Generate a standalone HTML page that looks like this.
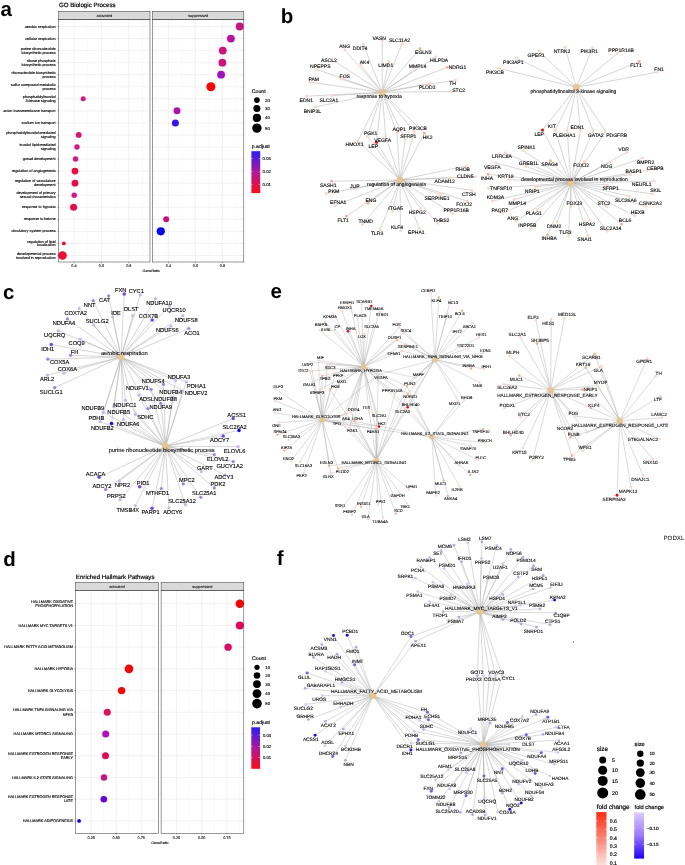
<!DOCTYPE html>
<html lang="en"><head><meta charset="utf-8"><title>Figure</title>
<style>html,body{margin:0;padding:0;background:#fff}svg{display:block}text{font-family:'Liberation Sans', sans-serif;text-rendering:geometricPrecision}</style>
</head><body>
<svg width="685" height="865" viewBox="0 0 685 865">
<defs>
<linearGradient id="gpadj" x1="0" y1="0" x2="0" y2="1"><stop offset="0" stop-color="#2a1aff"/><stop offset="0.5" stop-color="#b3159a"/><stop offset="1" stop-color="#ff0a14"/></linearGradient>
<linearGradient id="gred" x1="0" y1="0" x2="0" y2="1"><stop offset="0" stop-color="#ff2a10"/><stop offset="1" stop-color="#fde4dc"/></linearGradient>
<linearGradient id="gblue" x1="0" y1="0" x2="0" y2="1"><stop offset="0" stop-color="#dccdff"/><stop offset="0.5" stop-color="#9a78ff"/><stop offset="1" stop-color="#1c00ff"/></linearGradient>
</defs>
<rect width="685" height="865" fill="#fff"/>
<text x="0.6" y="15.70" font-size="20.5" text-anchor="start" fill="#000" font-weight="bold">a</text>
<text x="280.8" y="22.80" font-size="20.5" text-anchor="start" fill="#000" font-weight="bold">b</text>
<text x="3.1" y="298.70" font-size="20.5" text-anchor="start" fill="#000" font-weight="bold">c</text>
<text x="3.3" y="565.90" font-size="20.5" text-anchor="start" fill="#000" font-weight="bold">d</text>
<text x="270.6" y="298.10" font-size="20.5" text-anchor="start" fill="#000" font-weight="bold">e</text>
<text x="276.8" y="565.20" font-size="20.5" text-anchor="start" fill="#000" font-weight="bold">f</text>
<text x="58.9" y="6.70" font-size="6.17" text-anchor="start" fill="#000" stroke="#000" stroke-width="0.185">GO Biologic Process</text>
<rect x="58.7" y="19.5" width="91.3" height="242.5" fill="#fff"/>
<path d="M60.3 19.5V262.0M87.7 19.5V262.0M115.1 19.5V262.0M142.5 19.5V262.0" stroke="#ebebeb" stroke-width="0.3" fill="none"/>
<path d="M58.7 26.50H150.0M58.7 38.55H150.0M58.7 50.60H150.0M58.7 62.65H150.0M58.7 74.70H150.0M58.7 86.75H150.0M58.7 98.80H150.0M58.7 110.85H150.0M58.7 122.90H150.0M58.7 134.95H150.0M58.7 147.00H150.0M58.7 159.05H150.0M58.7 171.10H150.0M58.7 183.15H150.0M58.7 195.20H150.0M58.7 207.25H150.0M58.7 219.30H150.0M58.7 231.35H150.0M58.7 243.40H150.0M58.7 255.45H150.0M74.0 19.5V262.0M101.4 19.5V262.0M128.8 19.5V262.0" stroke="#dedede" stroke-width="0.4" fill="none"/>
<rect x="58.7" y="11.3" width="91.3" height="8.2" fill="#d9d9d9" stroke="#333" stroke-width="0.5"/>
<text x="104.3" y="16.70" font-size="3.9" text-anchor="middle" fill="#1a1a1a" stroke="#1a1a1a" stroke-width="0.117">activated</text>
<path d="M74.0 262.0v1.3M101.4 262.0v1.3M128.8 262.0v1.3" stroke="#333" stroke-width="0.4" fill="none"/>
<text x="74.0" y="267.40" font-size="3.8" text-anchor="middle" fill="#262626" stroke="#262626" stroke-width="0.114">0.4</text>
<text x="101.4" y="267.40" font-size="3.8" text-anchor="middle" fill="#262626" stroke="#262626" stroke-width="0.114">0.6</text>
<text x="128.8" y="267.40" font-size="3.8" text-anchor="middle" fill="#262626" stroke="#262626" stroke-width="0.114">0.8</text>
<rect x="152.5" y="19.5" width="91.3" height="242.5" fill="#fff"/>
<path d="M154.9 19.5V262.0M181.9 19.5V262.0M208.9 19.5V262.0M235.9 19.5V262.0" stroke="#ebebeb" stroke-width="0.3" fill="none"/>
<path d="M152.5 26.50H243.8M152.5 38.55H243.8M152.5 50.60H243.8M152.5 62.65H243.8M152.5 74.70H243.8M152.5 86.75H243.8M152.5 98.80H243.8M152.5 110.85H243.8M152.5 122.90H243.8M152.5 134.95H243.8M152.5 147.00H243.8M152.5 159.05H243.8M152.5 171.10H243.8M152.5 183.15H243.8M152.5 195.20H243.8M152.5 207.25H243.8M152.5 219.30H243.8M152.5 231.35H243.8M152.5 243.40H243.8M152.5 255.45H243.8M168.4 19.5V262.0M195.4 19.5V262.0M222.4 19.5V262.0" stroke="#dedede" stroke-width="0.4" fill="none"/>
<rect x="152.5" y="11.3" width="91.3" height="8.2" fill="#d9d9d9" stroke="#333" stroke-width="0.5"/>
<text x="198.2" y="16.70" font-size="3.9" text-anchor="middle" fill="#1a1a1a" stroke="#1a1a1a" stroke-width="0.117">suppressed</text>
<path d="M168.4 262.0v1.3M195.4 262.0v1.3M222.4 262.0v1.3" stroke="#333" stroke-width="0.4" fill="none"/>
<text x="168.4" y="267.40" font-size="3.8" text-anchor="middle" fill="#262626" stroke="#262626" stroke-width="0.114">0.4</text>
<text x="195.4" y="267.40" font-size="3.8" text-anchor="middle" fill="#262626" stroke="#262626" stroke-width="0.114">0.6</text>
<text x="222.4" y="267.40" font-size="3.8" text-anchor="middle" fill="#262626" stroke="#262626" stroke-width="0.114">0.8</text>
<circle cx="83.2" cy="98.80" r="2.5" fill="#dc1288"/>
<circle cx="78.7" cy="134.95" r="2.9" fill="#e01070"/>
<circle cx="77.0" cy="147.00" r="2.7" fill="#d8158a"/>
<circle cx="75.6" cy="159.05" r="2.7" fill="#d8158a"/>
<circle cx="75.0" cy="171.10" r="3.4" fill="#f00840"/>
<circle cx="75.0" cy="183.15" r="3.4" fill="#f00840"/>
<circle cx="74.2" cy="195.20" r="2.7" fill="#d8158a"/>
<circle cx="73.6" cy="207.25" r="3.5" fill="#ee0a48"/>
<circle cx="63.8" cy="243.40" r="1.9" fill="#f50a30"/>
<circle cx="62.5" cy="255.45" r="4.3" fill="#f50a30"/>
<circle cx="239.7" cy="26.50" r="3.9" fill="#cc1080"/>
<circle cx="230.9" cy="38.55" r="3.9" fill="#c010a0"/>
<circle cx="222.8" cy="50.60" r="3.9" fill="#d4107a"/>
<circle cx="222.4" cy="62.65" r="3.9" fill="#d4107a"/>
<circle cx="221.1" cy="74.70" r="3.9" fill="#a010c0"/>
<circle cx="210.9" cy="86.75" r="4.5" fill="#ff0000"/>
<circle cx="177.0" cy="110.85" r="3.5" fill="#b010b0"/>
<circle cx="175.4" cy="122.90" r="3.5" fill="#3a10ff"/>
<circle cx="166.2" cy="219.30" r="3.0" fill="#d0107a"/>
<circle cx="160.8" cy="231.35" r="4.1" fill="#0000ff"/>
<rect x="58.7" y="19.5" width="91.3" height="242.5" fill="none" stroke="#333" stroke-width="0.5"/>
<rect x="152.5" y="19.5" width="91.3" height="242.5" fill="none" stroke="#333" stroke-width="0.5"/>
<path d="M58.7 26.50h-1.3M58.7 38.55h-1.3M58.7 50.60h-1.3M58.7 62.65h-1.3M58.7 74.70h-1.3M58.7 86.75h-1.3M58.7 98.80h-1.3M58.7 110.85h-1.3M58.7 122.90h-1.3M58.7 134.95h-1.3M58.7 147.00h-1.3M58.7 159.05h-1.3M58.7 171.10h-1.3M58.7 183.15h-1.3M58.7 195.20h-1.3M58.7 207.25h-1.3M58.7 219.30h-1.3M58.7 231.35h-1.3M58.7 243.40h-1.3M58.7 255.45h-1.3" stroke="#333" stroke-width="0.4" fill="none"/>
<g font-size="3.75" text-anchor="end" fill="#000" stroke="#000" stroke-width="0.131">
<text x="55.6" y="27.62">aerobic respiration</text>
<text x="55.6" y="39.67">cellular respiration</text>
<text x="55.6" y="49.77">purine ribonucleotide</text>
<text x="55.6" y="53.68">biosynthetic process</text>
<text x="55.6" y="61.83">ribose phosphate</text>
<text x="55.6" y="65.73">biosynthetic process</text>
<text x="55.6" y="73.88">ribonucleotide biosynthetic</text>
<text x="55.6" y="77.78">process</text>
<text x="55.6" y="85.92">sulfur compound metabolic</text>
<text x="55.6" y="89.83">process</text>
<text x="55.6" y="97.98">phosphatidylinositol</text>
<text x="55.6" y="101.88">3-kinase signaling</text>
<text x="55.6" y="111.98">anion transmembrane transport</text>
<text x="55.6" y="124.03">sodium ion transport</text>
<text x="55.6" y="134.12">phosphatidylinositol-mediated</text>
<text x="55.6" y="138.02">signaling</text>
<text x="55.6" y="146.18">inositol lipid-mediated</text>
<text x="55.6" y="150.07">signaling</text>
<text x="55.6" y="160.18">gonad development</text>
<text x="55.6" y="172.23">regulation of angiogenesis</text>
<text x="55.6" y="182.33">regulation of vasculature</text>
<text x="55.6" y="186.22">development</text>
<text x="55.6" y="194.38">development of primary</text>
<text x="55.6" y="198.28">sexual characteristics</text>
<text x="55.6" y="208.38">response to hypoxia</text>
<text x="55.6" y="220.43">response to ketone</text>
<text x="55.6" y="232.48">circulatory system process</text>
<text x="55.6" y="242.58">regulation of lipid</text>
<text x="55.6" y="246.47">localization</text>
<text x="55.6" y="254.63">developmental process</text>
<text x="55.6" y="258.53">involved in reproduction</text>
</g>
<text x="151.2" y="272.00" font-size="3.6" text-anchor="middle" fill="#000" stroke="#000" stroke-width="0.108">GeneRatio</text>
<text x="251.8" y="92.77" font-size="5.2" text-anchor="start" fill="#000" stroke="#000" stroke-width="0.156">Count</text>
<circle cx="256.9" cy="100.1" r="2.9" fill="#000"/>
<text x="265.1" y="101.65" font-size="4.3" text-anchor="start" fill="#000" stroke="#000" stroke-width="0.129">20</text>
<circle cx="256.9" cy="108.5" r="3.5" fill="#000"/>
<text x="265.1" y="110.05" font-size="4.3" text-anchor="start" fill="#000" stroke="#000" stroke-width="0.129">30</text>
<circle cx="256.9" cy="117.9" r="4.1" fill="#000"/>
<text x="265.1" y="119.45" font-size="4.3" text-anchor="start" fill="#000" stroke="#000" stroke-width="0.129">40</text>
<circle cx="256.9" cy="128.1" r="4.7" fill="#000"/>
<text x="265.1" y="129.65" font-size="4.3" text-anchor="start" fill="#000" stroke="#000" stroke-width="0.129">50</text>
<text x="251.8" y="148.24" font-size="5.15" text-anchor="start" fill="#000" stroke="#000" stroke-width="0.154">p.adjust</text>
<rect x="251.4" y="151.2" width="8.8" height="41.9" fill="url(#gpadj)"/>
<path d="M251.4 158.6h1.76M260.2 158.6h-1.76" stroke="#fff" stroke-width="0.4" opacity="0.8"/>
<text x="262.6" y="160.13" font-size="4.25" text-anchor="start" fill="#000" stroke="#000" stroke-width="0.128">0.03</text>
<path d="M251.4 171.7h1.76M260.2 171.7h-1.76" stroke="#fff" stroke-width="0.4" opacity="0.8"/>
<text x="262.6" y="173.23" font-size="4.25" text-anchor="start" fill="#000" stroke="#000" stroke-width="0.128">0.02</text>
<path d="M251.4 184.6h1.76M260.2 184.6h-1.76" stroke="#fff" stroke-width="0.4" opacity="0.8"/>
<text x="262.6" y="186.13" font-size="4.25" text-anchor="start" fill="#000" stroke="#000" stroke-width="0.128">0.01</text>
<text x="75.8" y="579.00" font-size="6.17" text-anchor="start" fill="#000" stroke="#000" stroke-width="0.185">Enriched Hallmark Pathways</text>
<rect x="75.6" y="590.4" width="82.9" height="242.9" fill="#fff"/>
<path d="M78.7 590.4V833.3M103.8 590.4V833.3M128.8 590.4V833.3M153.9 590.4V833.3" stroke="#ebebeb" stroke-width="0.3" fill="none"/>
<path d="M75.6 603.70H158.5M75.6 625.42H158.5M75.6 647.14H158.5M75.6 668.86H158.5M75.6 690.58H158.5M75.6 712.30H158.5M75.6 734.02H158.5M75.6 755.74H158.5M75.6 777.46H158.5M75.6 799.18H158.5M75.6 820.90H158.5M91.2 590.4V833.3M116.3 590.4V833.3M141.3 590.4V833.3" stroke="#dedede" stroke-width="0.4" fill="none"/>
<rect x="75.6" y="582.5" width="82.9" height="7.9" fill="#d9d9d9" stroke="#333" stroke-width="0.5"/>
<text x="117.0" y="587.75" font-size="3.9" text-anchor="middle" fill="#1a1a1a" stroke="#1a1a1a" stroke-width="0.117">activated</text>
<path d="M91.2 833.3v1.3M116.3 833.3v1.3M141.3 833.3v1.3" stroke="#333" stroke-width="0.4" fill="none"/>
<text x="91.2" y="838.70" font-size="3.8" text-anchor="middle" fill="#262626" stroke="#262626" stroke-width="0.114">0.25</text>
<text x="116.3" y="838.70" font-size="3.8" text-anchor="middle" fill="#262626" stroke="#262626" stroke-width="0.114">0.50</text>
<text x="141.3" y="838.70" font-size="3.8" text-anchor="middle" fill="#262626" stroke="#262626" stroke-width="0.114">0.75</text>
<rect x="161.1" y="590.4" width="82.7" height="242.9" fill="#fff"/>
<path d="M163.9 590.4V833.3M189.1 590.4V833.3M214.3 590.4V833.3M239.5 590.4V833.3" stroke="#ebebeb" stroke-width="0.3" fill="none"/>
<path d="M161.1 603.70H243.8M161.1 625.42H243.8M161.1 647.14H243.8M161.1 668.86H243.8M161.1 690.58H243.8M161.1 712.30H243.8M161.1 734.02H243.8M161.1 755.74H243.8M161.1 777.46H243.8M161.1 799.18H243.8M161.1 820.90H243.8M176.5 590.4V833.3M201.7 590.4V833.3M226.9 590.4V833.3" stroke="#dedede" stroke-width="0.4" fill="none"/>
<rect x="161.1" y="582.5" width="82.7" height="7.9" fill="#d9d9d9" stroke="#333" stroke-width="0.5"/>
<text x="202.4" y="587.75" font-size="3.9" text-anchor="middle" fill="#1a1a1a" stroke="#1a1a1a" stroke-width="0.117">suppressed</text>
<path d="M176.5 833.3v1.3M201.7 833.3v1.3M226.9 833.3v1.3" stroke="#333" stroke-width="0.4" fill="none"/>
<text x="176.5" y="838.70" font-size="3.8" text-anchor="middle" fill="#262626" stroke="#262626" stroke-width="0.114">0.25</text>
<text x="201.7" y="838.70" font-size="3.8" text-anchor="middle" fill="#262626" stroke="#262626" stroke-width="0.114">0.50</text>
<text x="226.9" y="838.70" font-size="3.8" text-anchor="middle" fill="#262626" stroke="#262626" stroke-width="0.114">0.75</text>
<circle cx="239.8" cy="603.70" r="4.2" fill="#ff0000"/>
<circle cx="239.8" cy="625.42" r="4.0" fill="#e8005a"/>
<circle cx="228.1" cy="647.14" r="3.7" fill="#e00a64"/>
<circle cx="129.0" cy="668.86" r="4.3" fill="#ff0000"/>
<circle cx="121.6" cy="690.58" r="3.7" fill="#ff0000"/>
<circle cx="107.3" cy="712.30" r="3.5" fill="#e0105a"/>
<circle cx="105.7" cy="734.02" r="3.5" fill="#b010c0"/>
<circle cx="105.5" cy="755.74" r="3.5" fill="#e00a55"/>
<circle cx="104.0" cy="777.46" r="3.2" fill="#cc1088"/>
<circle cx="103.8" cy="799.18" r="3.3" fill="#6a00e8"/>
<circle cx="79.1" cy="820.90" r="1.9" fill="#0000ff"/>
<rect x="75.6" y="590.4" width="82.9" height="242.9" fill="none" stroke="#333" stroke-width="0.5"/>
<rect x="161.1" y="590.4" width="82.7" height="242.9" fill="none" stroke="#333" stroke-width="0.5"/>
<path d="M75.6 603.70h-1.3M75.6 625.42h-1.3M75.6 647.14h-1.3M75.6 668.86h-1.3M75.6 690.58h-1.3M75.6 712.30h-1.3M75.6 734.02h-1.3M75.6 755.74h-1.3M75.6 777.46h-1.3M75.6 799.18h-1.3M75.6 820.90h-1.3" stroke="#333" stroke-width="0.4" fill="none"/>
<g font-size="3.82" text-anchor="end" fill="#000" stroke="#000" stroke-width="0.134">
<text x="73.0" y="602.70">HALLMARK OXIDATIVE</text>
<text x="73.0" y="607.00">PHOSPHORYLATION</text>
<text x="73.0" y="626.57">HALLMARK MYC TARGETS V1</text>
<text x="73.0" y="648.29">HALLMARK FATTY ACID METABOLISM</text>
<text x="73.0" y="670.01">HALLMARK HYPOXIA</text>
<text x="73.0" y="691.73">HALLMARK GLYCOLYSIS</text>
<text x="73.0" y="711.30">HALLMARK TNFA SIGNALING VIA</text>
<text x="73.0" y="715.60">NFKB</text>
<text x="73.0" y="735.17">HALLMARK MTORC1 SIGNALING</text>
<text x="73.0" y="754.74">HALLMARK ESTROGEN RESPONSE</text>
<text x="73.0" y="759.04">EARLY</text>
<text x="73.0" y="778.61">HALLMARK IL2 STAT5 SIGNALING</text>
<text x="73.0" y="798.18">HALLMARK ESTROGEN RESPONSE</text>
<text x="73.0" y="802.48">LATE</text>
<text x="73.0" y="822.05">HALLMARK ADIPOGENESIS</text>
</g>
<text x="159.9" y="843.80" font-size="3.6" text-anchor="middle" fill="#000" stroke="#000" stroke-width="0.108">GeneRatio</text>
<text x="252.0" y="660.07" font-size="5.2" text-anchor="start" fill="#000" stroke="#000" stroke-width="0.156">Count</text>
<circle cx="257.0" cy="667.3" r="2.6" fill="#000"/>
<text x="265.3" y="668.85" font-size="4.3" text-anchor="start" fill="#000" stroke="#000" stroke-width="0.129">10</text>
<circle cx="257.0" cy="675.5" r="3.3" fill="#000"/>
<text x="265.3" y="677.05" font-size="4.3" text-anchor="start" fill="#000" stroke="#000" stroke-width="0.129">20</text>
<circle cx="257.0" cy="684.1" r="3.9" fill="#000"/>
<text x="265.3" y="685.65" font-size="4.3" text-anchor="start" fill="#000" stroke="#000" stroke-width="0.129">30</text>
<circle cx="257.0" cy="693.6" r="4.4" fill="#000"/>
<text x="265.3" y="695.15" font-size="4.3" text-anchor="start" fill="#000" stroke="#000" stroke-width="0.129">40</text>
<circle cx="257.0" cy="703.6" r="4.8" fill="#000"/>
<text x="265.3" y="705.15" font-size="4.3" text-anchor="start" fill="#000" stroke="#000" stroke-width="0.129">50</text>
<text x="252.0" y="723.94" font-size="5.15" text-anchor="start" fill="#000" stroke="#000" stroke-width="0.154">p.adjust</text>
<rect x="251.3" y="727.3" width="8.7" height="41.5" fill="url(#gpadj)"/>
<path d="M251.3 735.2h1.74M260.0 735.2h-1.74" stroke="#fff" stroke-width="0.4" opacity="0.8"/>
<text x="262.9" y="736.73" font-size="4.25" text-anchor="start" fill="#000" stroke="#000" stroke-width="0.128">0.03</text>
<path d="M251.3 746.5h1.74M260.0 746.5h-1.74" stroke="#fff" stroke-width="0.4" opacity="0.8"/>
<text x="262.9" y="748.03" font-size="4.25" text-anchor="start" fill="#000" stroke="#000" stroke-width="0.128">0.02</text>
<path d="M251.3 757.5h1.74M260.0 757.5h-1.74" stroke="#fff" stroke-width="0.4" opacity="0.8"/>
<text x="262.9" y="759.03" font-size="4.25" text-anchor="start" fill="#000" stroke="#000" stroke-width="0.128">0.01</text>
<g stroke="#adadad" stroke-width="0.5" fill="none">
<path d="M382.2 92.3L382.3 40.7M382.2 92.3L344.7 49.8M382.2 92.3L363.2 44.2M382.2 92.3L335.9 62.0M382.2 92.3L361.0 65.0M382.2 92.3L389.0 61.5M382.2 92.3L317.2 69.6M382.2 92.3L341.3 79.2M382.2 92.3L310.1 82.2M382.2 92.3L306.6 96.2M382.2 92.3L332.0 95.7M382.2 92.3L315.4 107.1M382.2 92.3L402.1 43.7M382.2 92.3L420.1 48.6M382.2 92.3L435.9 56.8M382.2 92.3L414.4 69.9M382.2 92.3L447.3 67.3M382.2 92.3L455.7 79.9M382.2 92.3L429.8 83.4M382.2 92.3L450.8 91.5M382.2 92.3L367.5 136.3M400.0 179.9L367.5 136.3M382.2 92.3L357.9 141.1M400.0 179.9L357.9 141.1M382.2 92.3L385.6 136.3M400.0 179.9L385.6 136.3M382.2 92.3L376.4 142.3M400.0 179.9L376.4 142.3M382.2 92.3L396.9 132.7M400.0 179.9L396.9 132.7M382.2 92.3L405.2 139.3M400.0 179.9L405.2 139.3M382.2 92.3L414.5 132.0M400.0 179.9L414.5 132.0M382.2 92.3L424.4 133.2M400.0 179.9L424.4 133.2M576.4 87.4L498.0 68.2M576.4 87.4L516.8 58.2M576.4 87.4L539.2 51.2M576.4 87.4L565.0 47.2M576.4 87.4L542.5 130.0M571.1 182.9L542.5 130.0M576.4 87.4L555.3 130.0M571.1 182.9L555.3 130.0M576.4 87.4L567.1 130.7M571.1 182.9L567.1 130.7M576.4 87.4L592.5 47.7M576.4 87.4L617.6 53.3M576.4 87.4L639.3 61.5M576.4 87.4L656.8 72.2M576.4 87.4L593.0 130.7M571.1 182.9L593.0 130.7M576.4 87.4L605.6 131.6M571.1 182.9L605.6 131.6M576.4 87.4L580.4 130.4M571.1 182.9L580.4 130.4M400.0 179.9L331.5 181.2M400.0 179.9L351.8 189.2M400.0 179.9L326.4 193.4M400.0 179.9L335.2 205.7M400.0 179.9L368.0 203.2M400.0 179.9L346.4 216.2M400.0 179.9L362.4 224.6M400.0 179.9L392.5 211.5M400.0 179.9L380.2 229.5M400.0 179.9L466.2 165.9M400.0 179.9L475.3 176.8M400.0 179.9L449.6 177.7M400.0 179.9L472.0 190.4M400.0 179.9L440.3 194.5M400.0 179.9L467.1 201.0M400.0 179.9L453.1 214.1M400.0 179.9L420.3 208.3M400.0 179.9L437.7 223.4M400.0 179.9L419.4 228.6M400.0 179.9L400.5 231.1M571.1 182.9L523.3 150.7M571.1 182.9L505.1 152.8M571.1 182.9L525.9 166.4M571.1 182.9L550.4 160.7M571.1 182.9L495.8 162.9M571.1 182.9L488.1 174.3M571.1 182.9L508.4 179.6M571.1 182.9L488.4 188.3M571.1 182.9L535.5 186.9M571.1 182.9L492.3 201.0M571.1 182.9L514.2 199.6M571.1 182.9L502.8 213.2M571.1 182.9L536.9 209.7M571.1 182.9L515.9 221.5M571.1 182.9L530.5 228.6M571.1 182.9L557.1 222.0M571.1 182.9L571.1 206.7M571.1 182.9L547.4 234.8M571.1 182.9L568.5 236.0M571.1 182.9L584.3 161.5M571.1 182.9L626.7 152.4M571.1 182.9L610.0 162.1M571.1 182.9L642.6 158.0M571.1 182.9L630.7 174.7M571.1 182.9L647.0 170.3M571.1 182.9L654.0 181.3M571.1 182.9L607.6 184.8M571.1 182.9L652.6 193.9M571.1 182.9L629.3 196.2M571.1 182.9L646.1 206.6M571.1 182.9L607.0 206.7M571.1 182.9L634.6 215.8M571.1 182.9L621.6 224.1M571.1 182.9L607.0 231.3M571.1 182.9L590.1 220.6M571.1 182.9L587.8 235.5"/>
</g>
<circle cx="382.3" cy="40.7" r="1.40" fill="#ffd4c5"/>
<circle cx="344.7" cy="49.8" r="1.40" fill="#ffd4c5"/>
<circle cx="363.2" cy="44.2" r="1.40" fill="#ffd4c5"/>
<circle cx="335.9" cy="62.0" r="1.40" fill="#ffd4c5"/>
<circle cx="361.0" cy="65.0" r="1.40" fill="#ffd4c5"/>
<circle cx="389.0" cy="61.5" r="1.40" fill="#ffd4c5"/>
<circle cx="317.2" cy="69.6" r="1.40" fill="#ffd4c5"/>
<circle cx="341.3" cy="79.2" r="1.40" fill="#ffd4c5"/>
<circle cx="310.1" cy="82.2" r="1.40" fill="#ffd4c5"/>
<circle cx="306.6" cy="96.2" r="1.40" fill="#ffd4c5"/>
<circle cx="332.0" cy="95.7" r="1.40" fill="#ffd4c5"/>
<circle cx="315.4" cy="107.1" r="1.40" fill="#ffd4c5"/>
<circle cx="402.1" cy="43.7" r="1.40" fill="#ffd4c5"/>
<circle cx="420.1" cy="48.6" r="1.40" fill="#ffa890"/>
<circle cx="435.9" cy="56.8" r="1.40" fill="#ffd4c5"/>
<circle cx="414.4" cy="69.9" r="1.40" fill="#ffd4c5"/>
<circle cx="447.3" cy="67.3" r="1.40" fill="#ffa890"/>
<circle cx="455.7" cy="79.9" r="1.40" fill="#ffd4c5"/>
<circle cx="429.8" cy="83.4" r="1.40" fill="#ffd4c5"/>
<circle cx="450.8" cy="91.5" r="1.40" fill="#ffd4c5"/>
<circle cx="367.5" cy="136.3" r="1.40" fill="#ffd4c5"/>
<circle cx="357.9" cy="141.1" r="1.40" fill="#ffd4c5"/>
<circle cx="385.6" cy="136.3" r="1.40" fill="#ffd4c5"/>
<circle cx="376.4" cy="142.3" r="1.54" fill="#ff0000"/>
<circle cx="396.9" cy="132.7" r="1.40" fill="#ffd4c5"/>
<circle cx="405.2" cy="139.3" r="1.40" fill="#ffd4c5"/>
<circle cx="414.5" cy="132.0" r="1.40" fill="#ffd4c5"/>
<circle cx="424.4" cy="133.2" r="1.40" fill="#ffa890"/>
<circle cx="498.0" cy="68.2" r="1.40" fill="#ffd4c5"/>
<circle cx="516.8" cy="58.2" r="1.40" fill="#ffd4c5"/>
<circle cx="539.2" cy="51.2" r="1.40" fill="#ffd4c5"/>
<circle cx="565.0" cy="47.2" r="1.40" fill="#ffd4c5"/>
<circle cx="542.5" cy="130.0" r="1.54" fill="#ff0000"/>
<circle cx="555.3" cy="130.0" r="1.40" fill="#ffd4c5"/>
<circle cx="567.1" cy="130.7" r="1.40" fill="#ffd4c5"/>
<circle cx="592.5" cy="47.7" r="1.40" fill="#ffd4c5"/>
<circle cx="617.6" cy="53.3" r="1.40" fill="#ffd4c5"/>
<circle cx="639.3" cy="61.5" r="1.40" fill="#ffa890"/>
<circle cx="656.8" cy="72.2" r="1.40" fill="#ffd4c5"/>
<circle cx="593.0" cy="130.7" r="1.40" fill="#ffd4c5"/>
<circle cx="605.6" cy="131.6" r="1.40" fill="#ffd4c5"/>
<circle cx="580.4" cy="130.4" r="1.40" fill="#ffd4c5"/>
<circle cx="331.5" cy="181.2" r="1.40" fill="#ffa890"/>
<circle cx="351.8" cy="189.2" r="1.40" fill="#ffd4c5"/>
<circle cx="326.4" cy="193.4" r="1.40" fill="#ffd4c5"/>
<circle cx="335.2" cy="205.7" r="1.40" fill="#ffd4c5"/>
<circle cx="368.0" cy="203.2" r="1.40" fill="#ffa890"/>
<circle cx="346.4" cy="216.2" r="1.40" fill="#ffa890"/>
<circle cx="362.4" cy="224.6" r="1.40" fill="#ffd4c5"/>
<circle cx="392.5" cy="211.5" r="1.40" fill="#ffd4c5"/>
<circle cx="380.2" cy="229.5" r="1.40" fill="#ffd4c5"/>
<circle cx="466.2" cy="165.9" r="1.40" fill="#ffd4c5"/>
<circle cx="475.3" cy="176.8" r="1.40" fill="#ffd4c5"/>
<circle cx="449.6" cy="177.7" r="1.40" fill="#ffd4c5"/>
<circle cx="472.0" cy="190.4" r="1.40" fill="#ffd4c5"/>
<circle cx="440.3" cy="194.5" r="1.40" fill="#ffd4c5"/>
<circle cx="467.1" cy="201.0" r="1.40" fill="#ffd4c5"/>
<circle cx="453.1" cy="214.1" r="1.40" fill="#ffd4c5"/>
<circle cx="420.3" cy="208.3" r="1.40" fill="#ffd4c5"/>
<circle cx="437.7" cy="223.4" r="1.40" fill="#ffd4c5"/>
<circle cx="419.4" cy="228.6" r="1.40" fill="#ffd4c5"/>
<circle cx="400.5" cy="231.1" r="1.40" fill="#ffd4c5"/>
<circle cx="523.3" cy="150.7" r="1.40" fill="#ffd4c5"/>
<circle cx="505.1" cy="152.8" r="1.40" fill="#ffd4c5"/>
<circle cx="525.9" cy="166.4" r="1.40" fill="#ffd4c5"/>
<circle cx="550.4" cy="160.7" r="1.40" fill="#ffa890"/>
<circle cx="495.8" cy="162.9" r="1.40" fill="#ffd4c5"/>
<circle cx="488.1" cy="174.3" r="1.40" fill="#ffa890"/>
<circle cx="508.4" cy="179.6" r="1.40" fill="#ffd4c5"/>
<circle cx="488.4" cy="188.3" r="1.40" fill="#ffd4c5"/>
<circle cx="535.5" cy="186.9" r="1.40" fill="#ffd4c5"/>
<circle cx="492.3" cy="201.0" r="1.40" fill="#ffd4c5"/>
<circle cx="514.2" cy="199.6" r="1.40" fill="#ffd4c5"/>
<circle cx="502.8" cy="213.2" r="1.40" fill="#ffd4c5"/>
<circle cx="536.9" cy="209.7" r="1.40" fill="#ffd4c5"/>
<circle cx="515.9" cy="221.5" r="1.40" fill="#ffd4c5"/>
<circle cx="530.5" cy="228.6" r="1.40" fill="#ffd4c5"/>
<circle cx="557.1" cy="222.0" r="1.40" fill="#ffd4c5"/>
<circle cx="571.1" cy="206.7" r="1.40" fill="#ffd4c5"/>
<circle cx="547.4" cy="234.8" r="1.40" fill="#ffa890"/>
<circle cx="568.5" cy="236.0" r="1.40" fill="#ffd4c5"/>
<circle cx="584.3" cy="161.5" r="1.40" fill="#ffd4c5"/>
<circle cx="626.7" cy="152.4" r="1.40" fill="#ffd4c5"/>
<circle cx="610.0" cy="162.1" r="1.40" fill="#ffd4c5"/>
<circle cx="642.6" cy="158.0" r="1.40" fill="#ffd4c5"/>
<circle cx="630.7" cy="174.7" r="1.40" fill="#ffd4c5"/>
<circle cx="647.0" cy="170.3" r="1.40" fill="#ffd4c5"/>
<circle cx="654.0" cy="181.3" r="1.40" fill="#ffd4c5"/>
<circle cx="607.6" cy="184.8" r="1.40" fill="#ffd4c5"/>
<circle cx="652.6" cy="193.9" r="1.40" fill="#ffd4c5"/>
<circle cx="629.3" cy="196.2" r="1.40" fill="#ffd4c5"/>
<circle cx="646.1" cy="206.6" r="1.40" fill="#ffd4c5"/>
<circle cx="607.0" cy="206.7" r="1.40" fill="#ffd4c5"/>
<circle cx="634.6" cy="215.8" r="1.40" fill="#ffd4c5"/>
<circle cx="621.6" cy="224.1" r="1.40" fill="#ffa890"/>
<circle cx="607.0" cy="231.3" r="1.40" fill="#ffd4c5"/>
<circle cx="590.1" cy="220.6" r="1.40" fill="#ffd4c5"/>
<circle cx="587.8" cy="235.5" r="1.40" fill="#ffd4c5"/>
<circle cx="382.2" cy="92.3" r="3.3" fill="#e8c48e"/>
<circle cx="400.0" cy="179.9" r="3.3" fill="#e8c48e"/>
<circle cx="576.4" cy="87.4" r="3.3" fill="#e8c48e"/>
<circle cx="571.1" cy="182.9" r="3.3" fill="#e8c48e"/>
<g font-size="5.05" text-anchor="middle" fill="#000" stroke="#000" stroke-width="0.111">
<text x="379.3" y="40.22">VASN</text>
<text x="344.7" y="48.12">ANG</text>
<text x="360.1" y="49.82">DDIT4</text>
<text x="328.9" y="61.92">ASCL2</text>
<text x="364.5" y="63.82">AK4</text>
<text x="385.8" y="67.42">LIMD1</text>
<text x="320.3" y="68.12">NPEPPS</text>
<text x="344.8" y="77.52">FOS</text>
<text x="313.7" y="80.82">PAM</text>
<text x="306.3" y="101.72">EDN1</text>
<text x="328.9" y="101.52">SLC2A1</text>
<text x="312.4" y="112.92">BNIP3L</text>
<text x="399.5" y="41.92">SLC11A2</text>
<text x="423.3" y="54.42">EGLN3</text>
<text x="439.1" y="62.32">HILPDA</text>
<text x="417.5" y="68.22">MMP14</text>
<text x="457.5" y="68.82">NDRG1</text>
<text x="452.6" y="85.22">TH</text>
<text x="427.2" y="89.12">PLOD2</text>
<text x="458.7" y="91.92">STC2</text>
<text x="370.7" y="134.52">PGK1</text>
<text x="354.5" y="146.42">HMOX1</text>
<text x="382.6" y="142.02">VEGFA</text>
<text x="373.3" y="148.12">LEP</text>
<text x="399.2" y="130.62">AQP1</text>
<text x="408.3" y="137.62">SFRP1</text>
<text x="418.0" y="130.22">PIK3CB</text>
<text x="427.6" y="138.82">HK2</text>
<text x="494.9" y="73.82">PIK3CB</text>
<text x="513.3" y="64.02">PIK3AP1</text>
<text x="536.1" y="56.72">GPER1</text>
<text x="562.0" y="52.82">NTRK2</text>
<text x="539.2" y="135.72">LEP</text>
<text x="551.8" y="128.32">KIT</text>
<text x="564.1" y="136.62">PLEKHA1</text>
<text x="589.2" y="53.32">PIK3R1</text>
<text x="621.1" y="51.62">PPP1R16B</text>
<text x="636.0" y="67.02">FLT1</text>
<text x="659.1" y="70.52">FN1</text>
<text x="595.7" y="136.92">GATA2</text>
<text x="616.7" y="137.12">PDGFRB</text>
<text x="577.3" y="128.72">EDN1</text>
<text x="328.2" y="187.02">SASH1</text>
<text x="354.8" y="187.92">JUP</text>
<text x="333.8" y="193.12">PKM</text>
<text x="338.2" y="204.02">EFNA1</text>
<text x="370.9" y="201.52">ENG</text>
<text x="343.1" y="222.02">FLT1</text>
<text x="365.7" y="222.92">TNMD</text>
<text x="395.6" y="209.82">ITGA5</text>
<text x="377.1" y="235.22">TLR3</text>
<text x="462.7" y="171.22">RHOB</text>
<text x="465.3" y="177.92">CLDN5</text>
<text x="444.7" y="183.12">ADAM12</text>
<text x="468.8" y="195.92">CTSH</text>
<text x="437.0" y="199.92">SERPINE1</text>
<text x="464.1" y="206.42">FOXJ2</text>
<text x="456.2" y="212.42">PPP1R16B</text>
<text x="417.2" y="213.62">HSPG2</text>
<text x="441.2" y="221.72">THBS2</text>
<text x="416.3" y="233.92">EPHA1</text>
<text x="397.0" y="229.22">KLF4</text>
<text x="526.4" y="149.02">SPINK1</text>
<text x="501.9" y="158.42">LRRC8A</text>
<text x="528.7" y="164.72">GREB1L</text>
<text x="549.6" y="166.12">SPAG4</text>
<text x="492.3" y="168.62">VEGFA</text>
<text x="487.0" y="180.02">INHA</text>
<text x="505.8" y="177.92">KRT19</text>
<text x="501.0" y="190.02">TNFSF10</text>
<text x="532.2" y="192.62">NRIP1</text>
<text x="495.4" y="199.22">KDM3A</text>
<text x="517.3" y="205.02">MMP14</text>
<text x="499.8" y="211.52">PAQR7</text>
<text x="533.8" y="215.02">PLAG1</text>
<text x="512.8" y="219.92">ANG</text>
<text x="527.3" y="226.92">INPP5B</text>
<text x="554.1" y="227.62">DNM2</text>
<text x="574.3" y="204.92">FOXJ3</text>
<text x="549.2" y="240.42">INHBA</text>
<text x="565.5" y="234.32">TLR3</text>
<text x="581.1" y="166.82">FOXJ2</text>
<text x="623.7" y="150.72">VDR</text>
<text x="606.7" y="167.52">NOG</text>
<text x="645.6" y="163.72">BMPR2</text>
<text x="633.7" y="173.02">BASP1</text>
<text x="655.2" y="169.82">CEBPB</text>
<text x="641.7" y="185.82">NEURL1</text>
<text x="610.6" y="190.12">SFRP1</text>
<text x="655.7" y="192.22">SKIL</text>
<text x="625.8" y="201.52">SLC26A6</text>
<text x="650.5" y="204.92">CSNK2A2</text>
<text x="603.9" y="204.92">STC2</text>
<text x="637.7" y="214.12">HEXB</text>
<text x="625.1" y="222.42">BCL6</text>
<text x="610.6" y="229.62">SLC2A14</text>
<text x="586.9" y="225.92">HSPA2</text>
<text x="584.6" y="240.92">SNAI1</text>
<text x="379.2" y="97.96">response to hypoxia</text>
<text x="396.5" y="185.66">regulation of angiogenesis</text>
<text x="573.5" y="92.86">phosphatidylinositol 3-kinase signaling</text>
<text x="574.4" y="180.76">developmental process involved in reproduction</text>
</g>
<g stroke="#adadad" stroke-width="0.5" fill="none">
<path d="M121.0 357.1L108.6 295.8M121.0 357.1L93.2 300.7M121.0 357.1L79.2 308.4M121.0 357.1L67.4 318.9M121.0 357.1L93.7 325.0M121.0 357.1L58.3 330.8M121.0 357.1L80.2 339.0M121.0 357.1L51.3 344.5M121.0 357.1L70.6 355.3M121.0 357.1L47.8 359.2M121.0 357.1L63.9 373.2M121.0 357.1L47.3 375.1M121.0 357.1L54.7 387.7M121.0 357.1L124.2 294.0M121.0 357.1L140.3 294.9M121.0 357.1L155.5 298.7M121.0 357.1L132.9 315.6M121.0 357.1L112.6 317.1M121.0 357.1L169.7 305.9M121.0 357.1L152.2 319.9M121.0 357.1L182.9 315.6M121.0 357.1L171.0 326.1M121.0 357.1L188.8 328.5M121.0 357.1L175.5 380.5M165.5 446.2L175.5 380.5M121.0 357.1L163.4 384.4M165.5 446.2L163.4 384.4M121.0 357.1L151.1 389.3M165.5 446.2L151.1 389.3M165.5 446.2L138.7 395.1M121.0 357.1L160.7 403.3M165.5 446.2L160.7 403.3M121.0 357.1L125.5 400.3M165.5 446.2L125.5 400.3M121.0 357.1L148.0 408.5M165.5 446.2L148.0 408.5M121.0 357.1L103.3 412.4M165.5 446.2L103.3 412.4M121.0 357.1L113.8 406.4M165.5 446.2L113.8 406.4M121.0 357.1L135.3 414.3M165.5 446.2L135.3 414.3M121.0 357.1L100.1 421.7M165.5 446.2L100.1 421.7M121.0 357.1L123.4 419.6M165.5 446.2L123.4 419.6M121.0 357.1L111.5 423.4M165.5 446.2L111.5 423.4M121.0 357.1L186.4 381.9M165.5 446.2L186.4 381.9M121.0 357.1L182.8 391.0M165.5 446.2L182.8 391.0M121.0 357.1L172.8 397.2M165.5 446.2L172.8 397.2M165.5 446.2L233.2 418.5M165.5 446.2L239.0 430.4M165.5 446.2L223.2 436.0M165.5 446.2L238.1 446.7M165.5 446.2L214.3 454.6M165.5 446.2L233.2 461.6M165.5 446.2L201.3 471.6M165.5 446.2L225.0 474.8M165.5 446.2L183.3 483.9M165.5 446.2L214.3 487.9M165.5 446.2L99.1 477.3M165.5 446.2L119.2 481.2M165.5 446.2L105.6 489.6M165.5 446.2L139.7 486.8M165.5 446.2L120.1 499.6M165.5 446.2L161.3 488.5M165.5 446.2L135.3 505.7M165.5 446.2L152.0 508.3M165.5 446.2L200.8 497.3M165.5 446.2L185.4 504.7M165.5 446.2L168.9 507.8"/>
</g>
<circle cx="108.6" cy="295.8" r="1.60" fill="#a07cff"/>
<circle cx="93.2" cy="300.7" r="1.60" fill="#a07cff"/>
<circle cx="79.2" cy="308.4" r="1.60" fill="#cbb3ff"/>
<circle cx="67.4" cy="318.9" r="1.60" fill="#a07cff"/>
<circle cx="93.7" cy="325.0" r="1.60" fill="#cbb3ff"/>
<circle cx="58.3" cy="330.8" r="1.60" fill="#cbb3ff"/>
<circle cx="80.2" cy="339.0" r="1.60" fill="#cbb3ff"/>
<circle cx="51.3" cy="344.5" r="1.76" fill="#7044ff"/>
<circle cx="70.6" cy="355.3" r="1.60" fill="#a07cff"/>
<circle cx="47.8" cy="359.2" r="1.60" fill="#a07cff"/>
<circle cx="63.9" cy="373.2" r="1.60" fill="#cbb3ff"/>
<circle cx="47.3" cy="375.1" r="1.60" fill="#cbb3ff"/>
<circle cx="54.7" cy="387.7" r="1.60" fill="#a07cff"/>
<circle cx="124.2" cy="294.0" r="1.76" fill="#7044ff"/>
<circle cx="140.3" cy="294.9" r="1.60" fill="#cbb3ff"/>
<circle cx="155.5" cy="298.7" r="1.60" fill="#cbb3ff"/>
<circle cx="132.9" cy="315.6" r="1.60" fill="#cbb3ff"/>
<circle cx="112.6" cy="317.1" r="1.60" fill="#cbb3ff"/>
<circle cx="169.7" cy="305.9" r="1.60" fill="#cbb3ff"/>
<circle cx="152.2" cy="319.9" r="1.76" fill="#7044ff"/>
<circle cx="182.9" cy="315.6" r="1.60" fill="#cbb3ff"/>
<circle cx="171.0" cy="326.1" r="1.60" fill="#cbb3ff"/>
<circle cx="188.8" cy="328.5" r="1.60" fill="#a07cff"/>
<circle cx="175.5" cy="380.5" r="1.60" fill="#cbb3ff"/>
<circle cx="163.4" cy="384.4" r="1.60" fill="#a07cff"/>
<circle cx="151.1" cy="389.3" r="1.60" fill="#a07cff"/>
<circle cx="138.7" cy="395.1" r="1.60" fill="#cbb3ff"/>
<circle cx="160.7" cy="403.3" r="1.60" fill="#a07cff"/>
<circle cx="125.5" cy="400.3" r="1.60" fill="#cbb3ff"/>
<circle cx="148.0" cy="408.5" r="1.60" fill="#a07cff"/>
<circle cx="103.3" cy="412.4" r="1.60" fill="#cbb3ff"/>
<circle cx="113.8" cy="406.4" r="1.60" fill="#cbb3ff"/>
<circle cx="135.3" cy="414.3" r="1.60" fill="#cbb3ff"/>
<circle cx="100.1" cy="421.7" r="1.60" fill="#cbb3ff"/>
<circle cx="123.4" cy="419.6" r="1.60" fill="#cbb3ff"/>
<circle cx="111.5" cy="423.4" r="1.76" fill="#1400ff"/>
<circle cx="186.4" cy="381.9" r="1.60" fill="#cbb3ff"/>
<circle cx="182.8" cy="391.0" r="1.60" fill="#cbb3ff"/>
<circle cx="172.8" cy="397.2" r="1.60" fill="#cbb3ff"/>
<circle cx="233.2" cy="418.5" r="1.76" fill="#7044ff"/>
<circle cx="239.0" cy="430.4" r="1.76" fill="#1400ff"/>
<circle cx="223.2" cy="436.0" r="1.76" fill="#7044ff"/>
<circle cx="238.1" cy="446.7" r="1.60" fill="#cbb3ff"/>
<circle cx="214.3" cy="454.6" r="1.60" fill="#a07cff"/>
<circle cx="233.2" cy="461.6" r="1.60" fill="#a07cff"/>
<circle cx="201.3" cy="471.6" r="1.60" fill="#cbb3ff"/>
<circle cx="225.0" cy="474.8" r="1.60" fill="#cbb3ff"/>
<circle cx="183.3" cy="483.9" r="1.60" fill="#a07cff"/>
<circle cx="214.3" cy="487.9" r="1.60" fill="#a07cff"/>
<circle cx="99.1" cy="477.3" r="1.76" fill="#7044ff"/>
<circle cx="119.2" cy="481.2" r="1.60" fill="#cbb3ff"/>
<circle cx="105.6" cy="489.6" r="1.60" fill="#a07cff"/>
<circle cx="139.7" cy="486.8" r="1.76" fill="#7044ff"/>
<circle cx="120.1" cy="499.6" r="1.60" fill="#cbb3ff"/>
<circle cx="161.3" cy="488.5" r="1.60" fill="#a07cff"/>
<circle cx="135.3" cy="505.7" r="1.60" fill="#cbb3ff"/>
<circle cx="152.0" cy="508.3" r="1.76" fill="#7044ff"/>
<circle cx="200.8" cy="497.3" r="1.60" fill="#a07cff"/>
<circle cx="185.4" cy="504.7" r="1.60" fill="#cbb3ff"/>
<circle cx="168.9" cy="507.8" r="1.60" fill="#cbb3ff"/>
<circle cx="121.0" cy="357.1" r="3.4" fill="#e8c48e"/>
<circle cx="165.5" cy="446.2" r="3.4" fill="#e8c48e"/>
<g font-size="5.7" text-anchor="middle" fill="#000" stroke="#000" stroke-width="0.103">
<text x="104.6" y="301.85">CAT</text>
<text x="89.7" y="307.15">NNT</text>
<text x="75.7" y="314.65">COX7A2</text>
<text x="63.9" y="325.15">NDUFA4</text>
<text x="97.2" y="323.25">SUCLG2</text>
<text x="54.7" y="337.45">UQCRQ</text>
<text x="76.6" y="345.45">COQ9</text>
<text x="47.8" y="350.95">IDH1</text>
<text x="74.5" y="353.55">FH</text>
<text x="59.6" y="364.05">COX5A</text>
<text x="67.4" y="371.35">COX6A</text>
<text x="47.0" y="381.35">ARL2</text>
<text x="51.2" y="393.85">SUCLG1</text>
<text x="120.7" y="292.05">FXN</text>
<text x="136.3" y="292.95">CYC1</text>
<text x="159.0" y="304.85">NDUFA10</text>
<text x="131.2" y="310.95">DLST</text>
<text x="116.1" y="315.35">IDE</text>
<text x="174.1" y="312.15">UQCR10</text>
<text x="148.5" y="317.95">COX7B</text>
<text x="186.4" y="321.95">NDUFS8</text>
<text x="167.4" y="332.35">NDUFS6</text>
<text x="192.0" y="334.65">ACO1</text>
<text x="179.0" y="378.75">NDUFA3</text>
<text x="153.2" y="382.55">NDUFS4</text>
<text x="137.4" y="389.55">NDUFV1</text>
<text x="146.6" y="400.95">ADSL</text>
<text x="165.5" y="401.35">NDUFB8</text>
<text x="124.8" y="406.55">NDUFC1</text>
<text x="160.7" y="409.35">NDUFA9</text>
<text x="92.8" y="410.25">NDUFB9</text>
<text x="118.7" y="414.05">NDUFB5</text>
<text x="145.3" y="418.85">SDHC</text>
<text x="96.3" y="419.75">PDHB</text>
<text x="128.2" y="425.85">NDUFA6</text>
<text x="102.4" y="429.55">NDUFB2</text>
<text x="196.4" y="388.15">PDHA1</text>
<text x="196.1" y="395.35">NDUFV2</text>
<text x="170.7" y="394.25">NDUFB4</text>
<text x="236.7" y="416.75">ACSS1</text>
<text x="234.6" y="428.65">SLC26A2</text>
<text x="219.6" y="442.45">ADCY7</text>
<text x="234.6" y="453.15">ELOVL6</text>
<text x="217.8" y="460.85">ELOVL2</text>
<text x="229.7" y="468.05">GUCY1A2</text>
<text x="204.8" y="469.85">GART</text>
<text x="223.9" y="478.95">ADCY3</text>
<text x="186.8" y="482.05">MPC2</text>
<text x="218.0" y="486.25">PDK2</text>
<text x="95.6" y="475.65">ACACA</text>
<text x="122.5" y="487.25">NPR2</text>
<text x="102.0" y="488.15">ADCY2</text>
<text x="143.2" y="484.95">PID1</text>
<text x="116.4" y="497.75">PRPS2</text>
<text x="157.6" y="494.65">MTHFD1</text>
<text x="127.8" y="511.75">TMSB4X</text>
<text x="150.6" y="514.25">PARP1</text>
<text x="204.3" y="495.45">SLC25A1</text>
<text x="182.1" y="502.85">SLC25A12</text>
<text x="172.8" y="514.25">ADCY6</text>
<text x="124.3" y="354.74">aerobic respiration</text>
<text x="161.7" y="452.44">purine ribonucleotide biosynthetic process</text>
</g>
<g stroke="#adadad" stroke-width="0.42" fill="none">
<path d="M363.7 366.7L350.6 305.1M363.7 366.7L361.5 304.2M363.7 366.7L341.8 311.2M363.7 366.7L371.3 305.9M363.7 366.7L333.1 313.6M363.7 366.7L357.6 318.5M363.7 366.7L379.5 311.9M363.7 366.7L324.8 321.5M363.7 366.7L334.8 329.6M363.7 366.7L319.9 330.3M363.7 366.7L348.0 331.2M363.7 366.7L373.9 323.8M363.7 366.7L364.3 334.0M363.7 366.7L318.2 360.6M322.2 419.9L318.2 360.6M363.7 366.7L310.3 361.8M322.2 419.9L310.3 361.8M363.7 366.7L309.9 371.1M322.2 419.9L309.9 371.1M363.7 366.7L327.3 364.4M322.2 419.9L327.3 364.4M363.7 366.7L335.7 372.9M322.2 419.9L335.7 372.9M363.7 366.7L322.2 375.8M322.2 419.9L322.2 375.8M363.7 366.7L312.6 381.1M322.2 419.9L312.6 381.1M363.7 366.7L339.2 384.2M322.2 419.9L339.2 384.2M363.7 366.7L330.1 389.5M322.2 419.9L330.1 389.5M376.3 460.1L330.1 389.5M363.7 366.7L319.6 389.5M322.2 419.9L319.6 389.5M322.2 419.9L275.3 389.1M363.7 366.7L378.3 374.6M322.2 419.9L378.3 374.6M376.3 460.1L378.3 374.6M434.8 359.7L378.3 374.6M434.8 359.7L430.8 293.1M434.8 359.7L439.0 297.5M434.8 359.7L450.6 299.6M434.8 359.7L462.0 310.7M434.8 359.7L447.8 313.6M434.8 359.7L472.0 323.4M434.8 359.7L459.7 329.1M434.8 359.7L479.0 337.5M434.8 359.7L468.1 348.3M434.8 359.7L483.0 353.2M434.8 359.7L471.1 368.5M434.8 359.7L484.2 369.0M434.8 359.7L479.5 382.5M363.7 366.7L399.3 327.3M434.8 359.7L399.3 327.3M363.7 366.7L403.3 333.1M434.8 359.7L403.3 333.1M363.7 366.7L397.2 340.1M434.8 359.7L397.2 340.1M363.7 366.7L405.4 343.9M434.8 359.7L405.4 343.9M363.7 366.7L401.9 351.0M434.8 359.7L401.9 351.0M363.7 366.7L415.9 377.8M434.8 359.7L415.9 377.8M322.2 419.9L275.3 401.0M322.2 419.9L274.7 412.8M322.2 419.9L278.8 422.6M322.2 419.9L277.4 434.8M322.2 419.9L288.7 439.9M322.2 419.9L284.4 450.6M322.2 419.9L291.4 460.9M322.2 419.9L300.3 462.0M322.2 419.9L303.8 472.9M322.2 419.9L329.0 465.8M376.3 460.1L329.0 465.8M322.2 419.9L330.8 473.4M376.3 460.1L330.8 473.4M322.2 419.9L338.0 468.5M376.3 460.1L338.0 468.5M363.7 366.7L350.9 412.4M322.2 419.9L350.9 412.4M376.3 460.1L350.9 412.4M363.7 366.7L343.6 415.6M322.2 419.9L343.6 415.6M363.7 366.7L354.1 421.2M322.2 419.9L354.1 421.2M376.3 460.1L354.1 421.2M431.8 436.9L354.1 421.2M363.7 366.7L342.7 424.3M322.2 419.9L342.7 424.3M376.3 460.1L342.7 424.3M431.8 436.9L342.7 424.3M363.7 366.7L349.7 427.7M322.2 419.9L349.7 427.7M376.3 460.1L349.7 427.7M363.7 366.7L369.0 410.7M376.3 460.1L369.0 410.7M363.7 366.7L376.5 412.4M376.3 460.1L376.5 412.4M363.7 366.7L379.0 426.4M322.2 419.9L379.0 426.4M376.3 460.1L379.0 426.4M363.7 366.7L375.6 429.1M322.2 419.9L375.6 429.1M376.3 460.1L375.6 429.1M363.7 366.7L406.8 386.1M434.8 359.7L406.8 386.1M376.3 460.1L406.8 386.1M431.8 436.9L406.8 386.1M363.7 366.7L395.1 393.5M434.8 359.7L395.1 393.5M376.3 460.1L395.1 393.5M363.7 366.7L407.7 393.7M434.8 359.7L407.7 393.7M376.3 460.1L407.7 393.7M431.8 436.9L407.7 393.7M363.7 366.7L407.7 407.2M434.8 359.7L407.7 407.2M376.3 460.1L407.7 407.2M431.8 436.9L407.7 407.2M363.7 366.7L405.0 408.9M434.8 359.7L405.0 408.9M376.3 460.1L405.0 408.9M431.8 436.9L405.0 408.9M434.8 359.7L464.1 400.1M431.8 436.9L464.1 400.1M434.8 359.7L458.1 401.0M431.8 436.9L458.1 401.0M431.8 436.9L483.0 429.1M431.8 436.9L483.9 442.5M431.8 436.9L470.7 446.0M431.8 436.9L478.1 460.1M431.8 436.9L458.8 465.5M431.8 436.9L470.4 475.0M431.8 436.9L443.6 480.4M431.8 436.9L459.7 486.5M376.3 460.1L409.1 489.5M431.8 436.9L435.7 495.6M376.3 460.1L395.1 497.7M431.8 436.9L448.0 496.0M376.3 460.1L342.6 507.8M376.3 460.1L352.0 514.8M376.3 460.1L361.0 506.6M376.3 460.1L368.0 518.8M376.3 460.1L378.0 504.5M376.3 460.1L382.9 518.0M376.3 460.1L395.8 513.6M376.3 460.1L407.2 503.6"/>
</g>
<circle cx="350.6" cy="305.1" r="1.15" fill="#ffd4c5"/>
<circle cx="361.5" cy="304.2" r="1.15" fill="#ffd4c5"/>
<circle cx="341.8" cy="311.2" r="1.15" fill="#ffd4c5"/>
<circle cx="371.3" cy="305.9" r="1.26" fill="#ff0000"/>
<circle cx="333.1" cy="313.6" r="1.15" fill="#ffd4c5"/>
<circle cx="357.6" cy="318.5" r="1.15" fill="#ffd4c5"/>
<circle cx="379.5" cy="311.9" r="1.15" fill="#ffd4c5"/>
<circle cx="324.8" cy="321.5" r="1.15" fill="#ffd4c5"/>
<circle cx="334.8" cy="329.6" r="1.15" fill="#ffa890"/>
<circle cx="319.9" cy="330.3" r="1.15" fill="#ffd4c5"/>
<circle cx="348.0" cy="331.2" r="1.26" fill="#ff0000"/>
<circle cx="373.9" cy="323.8" r="1.15" fill="#ffd4c5"/>
<circle cx="364.3" cy="334.0" r="1.15" fill="#ffd4c5"/>
<circle cx="318.2" cy="360.6" r="1.15" fill="#ffd4c5"/>
<circle cx="310.3" cy="361.8" r="1.15" fill="#ffd4c5"/>
<circle cx="309.9" cy="371.1" r="1.15" fill="#ffd4c5"/>
<circle cx="327.3" cy="364.4" r="1.15" fill="#ffd4c5"/>
<circle cx="335.7" cy="372.9" r="1.15" fill="#ffd4c5"/>
<circle cx="322.2" cy="375.8" r="1.15" fill="#ffa890"/>
<circle cx="312.6" cy="381.1" r="1.15" fill="#ffd4c5"/>
<circle cx="339.2" cy="384.2" r="1.15" fill="#ffd4c5"/>
<circle cx="330.1" cy="389.5" r="1.15" fill="#ffa890"/>
<circle cx="319.6" cy="389.5" r="1.15" fill="#ffd4c5"/>
<circle cx="275.3" cy="389.1" r="1.15" fill="#ffd4c5"/>
<circle cx="378.3" cy="374.6" r="1.15" fill="#ffd4c5"/>
<circle cx="430.8" cy="293.1" r="1.15" fill="#ffd4c5"/>
<circle cx="439.0" cy="297.5" r="1.15" fill="#ffa890"/>
<circle cx="450.6" cy="299.6" r="1.15" fill="#ffd4c5"/>
<circle cx="462.0" cy="310.7" r="1.15" fill="#ffa890"/>
<circle cx="447.8" cy="313.6" r="1.15" fill="#ffd4c5"/>
<circle cx="472.0" cy="323.4" r="1.15" fill="#ffd4c5"/>
<circle cx="459.7" cy="329.1" r="1.15" fill="#ffd4c5"/>
<circle cx="479.0" cy="337.5" r="1.15" fill="#ffd4c5"/>
<circle cx="468.1" cy="348.3" r="1.15" fill="#ffd4c5"/>
<circle cx="483.0" cy="353.2" r="1.15" fill="#ffd4c5"/>
<circle cx="471.1" cy="368.5" r="1.15" fill="#ffa890"/>
<circle cx="484.2" cy="369.0" r="1.15" fill="#ffd4c5"/>
<circle cx="479.5" cy="382.5" r="1.15" fill="#ffd4c5"/>
<circle cx="399.3" cy="327.3" r="1.15" fill="#ffd4c5"/>
<circle cx="403.3" cy="333.1" r="1.15" fill="#ffd4c5"/>
<circle cx="397.2" cy="340.1" r="1.15" fill="#ffa890"/>
<circle cx="405.4" cy="343.9" r="1.15" fill="#ffd4c5"/>
<circle cx="401.9" cy="351.0" r="1.15" fill="#ffd4c5"/>
<circle cx="415.9" cy="377.8" r="1.15" fill="#ffd4c5"/>
<circle cx="275.3" cy="401.0" r="1.15" fill="#ffd4c5"/>
<circle cx="274.7" cy="412.8" r="1.15" fill="#ffd4c5"/>
<circle cx="278.8" cy="422.6" r="1.15" fill="#ffd4c5"/>
<circle cx="277.4" cy="434.8" r="1.15" fill="#ffa890"/>
<circle cx="288.7" cy="439.9" r="1.15" fill="#ffd4c5"/>
<circle cx="284.4" cy="450.6" r="1.15" fill="#ffa890"/>
<circle cx="291.4" cy="460.9" r="1.15" fill="#ffd4c5"/>
<circle cx="300.3" cy="462.0" r="1.15" fill="#ffd4c5"/>
<circle cx="303.8" cy="472.9" r="1.15" fill="#ffd4c5"/>
<circle cx="329.0" cy="465.8" r="1.15" fill="#ffa890"/>
<circle cx="330.8" cy="473.4" r="1.15" fill="#ffd4c5"/>
<circle cx="338.0" cy="468.5" r="1.15" fill="#ffa890"/>
<circle cx="350.9" cy="412.4" r="1.15" fill="#ffd4c5"/>
<circle cx="343.6" cy="415.6" r="1.15" fill="#ffd4c5"/>
<circle cx="354.1" cy="421.2" r="1.15" fill="#ffa890"/>
<circle cx="342.7" cy="424.3" r="1.15" fill="#ffd4c5"/>
<circle cx="349.7" cy="427.7" r="1.15" fill="#ffd4c5"/>
<circle cx="369.0" cy="410.7" r="1.15" fill="#ffd4c5"/>
<circle cx="376.5" cy="412.4" r="1.15" fill="#ffd4c5"/>
<circle cx="379.0" cy="426.4" r="1.26" fill="#ff0000"/>
<circle cx="375.6" cy="429.1" r="1.15" fill="#ffa890"/>
<circle cx="406.8" cy="386.1" r="1.15" fill="#ffa890"/>
<circle cx="395.1" cy="393.5" r="1.15" fill="#ffd4c5"/>
<circle cx="407.7" cy="393.7" r="1.15" fill="#ffa890"/>
<circle cx="407.7" cy="407.2" r="1.26" fill="#ff0000"/>
<circle cx="405.0" cy="408.9" r="1.15" fill="#ffd4c5"/>
<circle cx="464.1" cy="400.1" r="1.15" fill="#ffd4c5"/>
<circle cx="458.1" cy="401.0" r="1.15" fill="#ffd4c5"/>
<circle cx="483.0" cy="429.1" r="1.15" fill="#ffa890"/>
<circle cx="483.9" cy="442.5" r="1.15" fill="#ffd4c5"/>
<circle cx="470.7" cy="446.0" r="1.15" fill="#ffd4c5"/>
<circle cx="478.1" cy="460.1" r="1.15" fill="#ffd4c5"/>
<circle cx="458.8" cy="465.5" r="1.15" fill="#ffd4c5"/>
<circle cx="470.4" cy="475.0" r="1.15" fill="#ffa890"/>
<circle cx="443.6" cy="480.4" r="1.15" fill="#ffa890"/>
<circle cx="459.7" cy="486.5" r="1.15" fill="#ffd4c5"/>
<circle cx="409.1" cy="489.5" r="1.15" fill="#ffd4c5"/>
<circle cx="435.7" cy="495.6" r="1.15" fill="#ffd4c5"/>
<circle cx="395.1" cy="497.7" r="1.15" fill="#ffd4c5"/>
<circle cx="448.0" cy="496.0" r="1.15" fill="#ffa890"/>
<circle cx="342.6" cy="507.8" r="1.15" fill="#ffd4c5"/>
<circle cx="352.0" cy="514.8" r="1.15" fill="#ffd4c5"/>
<circle cx="361.0" cy="506.6" r="1.15" fill="#ffa890"/>
<circle cx="368.0" cy="518.8" r="1.15" fill="#ffd4c5"/>
<circle cx="378.0" cy="504.5" r="1.15" fill="#ffd4c5"/>
<circle cx="382.9" cy="518.0" r="1.15" fill="#ffd4c5"/>
<circle cx="395.8" cy="513.6" r="1.15" fill="#ffa890"/>
<circle cx="407.2" cy="503.6" r="1.15" fill="#ffd4c5"/>
<circle cx="363.7" cy="366.7" r="2.7" fill="#e8c48e"/>
<circle cx="434.8" cy="359.7" r="2.7" fill="#e8c48e"/>
<circle cx="322.2" cy="419.9" r="2.7" fill="#e8c48e"/>
<circle cx="376.3" cy="460.1" r="2.7" fill="#e8c48e"/>
<circle cx="431.8" cy="436.9" r="2.7" fill="#e8c48e"/>
<g font-size="4.0" text-anchor="middle" fill="#000" stroke="#000" stroke-width="0.096">
<text x="347.1" y="303.64">ERRFI1</text>
<text x="364.3" y="302.84">SCARB1</text>
<text x="344.8" y="309.44">HMOX1</text>
<text x="373.9" y="310.04">TMEM45A</text>
<text x="330.1" y="318.24">KDM3A</text>
<text x="360.2" y="317.04">PLAC8</text>
<text x="382.1" y="316.14">STBD1</text>
<text x="321.7" y="325.74">BNIP3L</text>
<text x="337.4" y="328.24">CP</text>
<text x="326.1" y="331.34">ILVBL</text>
<text x="350.6" y="329.94">INHA</text>
<text x="371.6" y="328.44">SLC2A5</text>
<text x="362.0" y="338.34">LOX</text>
<text x="320.5" y="359.04">MIF</text>
<text x="307.7" y="366.44">UGP2</text>
<text x="303.3" y="371.64">STC2</text>
<text x="330.1" y="369.04">SDC3</text>
<text x="338.3" y="377.24">PFKP</text>
<text x="325.2" y="380.04">TPBG</text>
<text x="309.4" y="385.64">GALK1</text>
<text x="341.5" y="382.74">MXI1</text>
<text x="335.3" y="387.94">PKM</text>
<text x="317.0" y="394.04">IGFBP3</text>
<text x="278.2" y="387.74">ELF3</text>
<text x="380.9" y="379.04">VEGFA</text>
<text x="428.2" y="291.64">CEBPD</text>
<text x="436.4" y="301.94">KLF4</text>
<text x="453.2" y="303.84">BCL3</text>
<text x="459.7" y="315.04">BCL6</text>
<text x="445.2" y="317.84">TRIP10</text>
<text x="469.3" y="327.84">ABCA1</text>
<text x="457.1" y="333.44">IFIT2</text>
<text x="481.3" y="336.14">HES1</text>
<text x="465.5" y="346.74">TSC22D1</text>
<text x="485.6" y="351.84">EDN1</text>
<text x="468.5" y="366.94">INHBA</text>
<text x="486.5" y="367.64">IFIH1</text>
<text x="477.2" y="386.94">TANK</text>
<text x="396.6" y="325.74">FOS</text>
<text x="405.9" y="331.94">SDC4</text>
<text x="394.5" y="338.74">DUSP1</text>
<text x="408.0" y="348.14">SERPINE1</text>
<text x="394.0" y="355.34">EFNA1</text>
<text x="418.2" y="376.24">MAFF</text>
<text x="277.9" y="399.64">PKM</text>
<text x="277.0" y="411.24">ANG</text>
<text x="276.5" y="427.04">GNE</text>
<text x="280.0" y="433.34">SPAG4</text>
<text x="291.4" y="438.34">SLC35A3</text>
<text x="286.6" y="449.24">KIF2A</text>
<text x="288.4" y="459.54">ENO2</text>
<text x="303.3" y="466.54">SLC16A3</text>
<text x="301.5" y="477.44">PKP2</text>
<text x="326.4" y="464.34">EGLN3</text>
<text x="328.3" y="477.84">GLRX</text>
<text x="342.4" y="472.94">PLOD2</text>
<text x="353.6" y="410.84">DDIT4</text>
<text x="345.9" y="419.94">AK4</text>
<text x="357.6" y="419.64">LDHA</text>
<text x="336.9" y="424.84">TPI1</text>
<text x="352.3" y="431.94">PGK1</text>
<text x="366.4" y="409.44">TES</text>
<text x="379.1" y="416.64">SLC2A1</text>
<text x="381.6" y="424.84">HK2</text>
<text x="373.0" y="433.34">P4HA1</text>
<text x="409.8" y="384.64">PLIN2</text>
<text x="392.2" y="392.34">PPP1R15A</text>
<text x="410.3" y="398.04">NDRG1</text>
<text x="410.6" y="405.64">BHLHE40</text>
<text x="402.4" y="412.94">SLC2A3</text>
<text x="466.7" y="398.94">RHOB</text>
<text x="454.6" y="405.14">MXD1</text>
<text x="480.7" y="433.34">TNFSF10</text>
<text x="484.8" y="441.54">PRKCH</text>
<text x="468.1" y="450.34">SWAP70</text>
<text x="480.7" y="458.74">PLEC</text>
<text x="461.5" y="464.14">AHNAK</text>
<text x="473.4" y="473.44">IL1R2</text>
<text x="440.6" y="484.84">MUC1</text>
<text x="457.1" y="490.94">IL2RB</text>
<text x="411.7" y="487.94">UFM1</text>
<text x="433.1" y="494.24">BMPR2</text>
<text x="397.5" y="496.54">GAPDH</text>
<text x="450.6" y="500.24">ANXA4</text>
<text x="339.9" y="506.64">SSR1</text>
<text x="349.6" y="513.44">FKBP2</text>
<text x="363.6" y="505.04">INSIG1</text>
<text x="365.7" y="517.84">GLA</text>
<text x="380.6" y="503.14">PPIG</text>
<text x="380.1" y="522.74">TUBA4A</text>
<text x="398.5" y="512.44">SCD</text>
<text x="405.1" y="507.64">TBK1</text>
<text x="361.1" y="371.52">HALLMARK_HYPOXIA</text>
<text x="442.9" y="358.02">HALLMARK_TNFA_SIGNALING_VIA_NFKB</text>
<text x="316.2" y="418.12">HALLMARK_GLYCOLYSIS</text>
<text x="373.7" y="464.22">HALLMARK_MTORC1_SIGNALING</text>
<text x="434.6" y="435.32">HALLMARK_IL2_STAT5_SIGNALING</text>
</g>
<g stroke="#adadad" stroke-width="0.45" fill="none">
<path d="M550.6 390.0L536.1 320.6M550.6 390.0L551.3 319.4M550.6 390.0L564.4 318.2M550.6 390.0L520.3 337.5M550.6 390.0L536.9 343.4M550.6 390.0L509.8 356.2M550.6 390.0L519.1 375.5M550.6 390.0L503.7 384.2M550.6 390.0L594.4 354.1M619.8 420.8L594.4 354.1M550.6 390.0L585.7 367.6M619.8 420.8L585.7 367.6M550.6 390.0L601.3 366.4M619.8 420.8L601.3 366.4M550.6 390.0L597.8 385.5M619.8 420.8L597.8 385.5M550.6 390.0L582.0 389.5M619.8 420.8L582.0 389.5M619.8 420.8L647.3 358.3M619.8 420.8L655.6 376.0M619.8 420.8L660.8 396.2M550.6 390.0L504.5 408.0M550.6 390.0L520.6 417.3M550.6 390.0L510.7 435.2M550.6 390.0L522.6 448.3M550.6 390.0L532.6 460.2M550.6 390.0L590.9 408.0M619.8 420.8L590.9 408.0M550.6 390.0L576.0 416.3M619.8 420.8L576.0 416.3M550.6 390.0L587.2 432.2M619.8 420.8L587.2 432.2M550.6 390.0L570.6 437.3M619.8 420.8L570.6 437.3M550.6 390.0L582.5 451.0M619.8 420.8L582.5 451.0M550.6 390.0L572.0 455.7M619.8 420.8L572.0 455.7M619.8 420.8L661.9 417.7M619.8 420.8L659.6 439.2M619.8 420.8L652.9 458.8M619.8 420.8L643.0 475.5M619.8 420.8L631.0 487.4M619.8 420.8L617.0 495.3"/>
</g>
<circle cx="536.1" cy="320.6" r="1.30" fill="#ffd4c5"/>
<circle cx="551.3" cy="319.4" r="1.30" fill="#ffd4c5"/>
<circle cx="564.4" cy="318.2" r="1.30" fill="#ffd4c5"/>
<circle cx="520.3" cy="337.5" r="1.30" fill="#ffd4c5"/>
<circle cx="536.9" cy="343.4" r="1.30" fill="#ffa890"/>
<circle cx="509.8" cy="356.2" r="1.30" fill="#ffd4c5"/>
<circle cx="519.1" cy="375.5" r="1.30" fill="#ffa890"/>
<circle cx="503.7" cy="384.2" r="1.30" fill="#ffd4c5"/>
<circle cx="594.4" cy="354.1" r="1.30" fill="#ffa890"/>
<circle cx="585.7" cy="367.6" r="1.30" fill="#ffa890"/>
<circle cx="601.3" cy="366.4" r="1.30" fill="#ffd4c5"/>
<circle cx="597.8" cy="385.5" r="1.30" fill="#ffd4c5"/>
<circle cx="582.0" cy="389.5" r="1.30" fill="#ffa890"/>
<circle cx="647.3" cy="358.3" r="1.30" fill="#ffd4c5"/>
<circle cx="655.6" cy="376.0" r="1.30" fill="#ffd4c5"/>
<circle cx="660.8" cy="396.2" r="1.30" fill="#ffd4c5"/>
<circle cx="504.5" cy="408.0" r="1.30" fill="#ffd4c5"/>
<circle cx="520.6" cy="417.3" r="1.30" fill="#ffd4c5"/>
<circle cx="510.7" cy="435.2" r="1.30" fill="#ffa890"/>
<circle cx="522.6" cy="448.3" r="1.30" fill="#ffd4c5"/>
<circle cx="532.6" cy="460.2" r="1.30" fill="#ffd4c5"/>
<circle cx="590.9" cy="408.0" r="1.30" fill="#ffa890"/>
<circle cx="576.0" cy="416.3" r="1.30" fill="#ffd4c5"/>
<circle cx="587.2" cy="432.2" r="1.30" fill="#ffd4c5"/>
<circle cx="570.6" cy="437.3" r="1.30" fill="#ffa890"/>
<circle cx="582.5" cy="451.0" r="1.30" fill="#ffd4c5"/>
<circle cx="572.0" cy="455.7" r="1.30" fill="#ffa890"/>
<circle cx="661.9" cy="417.7" r="1.30" fill="#ffd4c5"/>
<circle cx="659.6" cy="439.2" r="1.30" fill="#ffd4c5"/>
<circle cx="652.9" cy="458.8" r="1.30" fill="#ffd4c5"/>
<circle cx="643.0" cy="475.5" r="1.30" fill="#ffd4c5"/>
<circle cx="631.0" cy="487.4" r="1.30" fill="#ffd4c5"/>
<circle cx="617.0" cy="495.3" r="1.43" fill="#ff0000"/>
<circle cx="550.6" cy="390.0" r="3.1" fill="#e8c48e"/>
<circle cx="619.8" cy="420.8" r="3.1" fill="#e8c48e"/>
<g font-size="4.7" text-anchor="middle" fill="#000" stroke="#000" stroke-width="0.085">
<text x="533.1" y="318.79">ELF3</text>
<text x="548.3" y="324.59">HES1</text>
<text x="567.1" y="316.39">MED13L</text>
<text x="517.3" y="335.69">SLC2A1</text>
<text x="539.9" y="341.79">SH3BP5</text>
<text x="512.8" y="354.39">MLPH</text>
<text x="516.3" y="380.99">MUC1</text>
<text x="507.2" y="389.39">SLC26A2</text>
<text x="591.3" y="359.09">SCARB1</text>
<text x="583.0" y="366.09">KRT19</text>
<text x="598.3" y="371.89">GLA</text>
<text x="600.6" y="383.79">MYOF</text>
<text x="590.4" y="390.69">NRIP1</text>
<text x="644.2" y="363.29">GPER1</text>
<text x="658.7" y="374.59">TH</text>
<text x="657.9" y="400.79">LTF</text>
<text x="507.5" y="406.79">PODXL</text>
<text x="523.8" y="415.89">STC2</text>
<text x="513.3" y="433.69">BHLHE40</text>
<text x="519.4" y="453.69">KRT15</text>
<text x="536.4" y="458.79">P2RY2</text>
<text x="593.9" y="406.79">KLF4</text>
<text x="573.4" y="414.99">FOS</text>
<text x="565.0" y="429.89">NCOR2</text>
<text x="573.7" y="435.99">FLNB</text>
<text x="585.1" y="449.49">WFS1</text>
<text x="569.3" y="460.89">TPBG</text>
<text x="659.1" y="416.19">LAMC2</text>
<text x="643.0" y="440.89">ST6GALNAC2</text>
<text x="650.3" y="463.99">SNX10</text>
<text x="640.3" y="480.69">DNAJC1</text>
<text x="628.1" y="492.59">MAPK13</text>
<text x="614.1" y="500.79">SERPINA3</text>
<text x="547.4" y="396.65">HALLMARK_ESTROGEN_RESPONSE_EARLY</text>
<text x="619.9" y="426.55">HALLMARK_ESTROGEN_RESPONSE_LATE</text>
</g>
<g stroke="#adadad" stroke-width="0.45" fill="none">
<path d="M480.0 611.8L467.6 542.8M480.0 611.8L453.9 545.2M480.0 611.8L441.0 550.1M480.0 611.8L461.5 561.5M480.0 611.8L429.6 557.2M480.0 611.8L443.9 568.5M480.0 611.8L420.8 566.8M480.0 611.8L415.4 578.2M480.0 611.8L432.9 582.2M480.0 611.8L467.1 584.0M480.0 611.8L417.7 591.7M480.0 611.8L451.0 594.5M480.0 611.8L429.4 601.5M480.0 611.8L443.1 611.5M480.0 611.8L458.8 617.2M480.0 611.8L411.0 636.5M373.1 695.7L411.0 636.5M480.0 611.8L415.6 641.2M373.1 695.7L415.6 641.2M480.0 611.8L481.9 541.9M480.0 611.8L496.6 545.2M480.0 611.8L510.8 549.3M480.0 611.8L522.9 557.2M480.0 611.8L481.4 558.4M480.0 611.8L502.8 563.6M480.0 611.8L533.6 565.6M480.0 611.8L518.2 576.8M480.0 611.8L487.5 580.3M480.0 611.8L543.2 575.2M480.0 611.8L533.1 589.0M480.0 611.8L550.6 587.5M480.0 611.8L502.8 594.5M480.0 611.8L554.6 600.1M480.0 611.8L520.3 605.3M480.0 611.8L540.1 608.8M480.0 611.8L555.8 612.9M480.0 611.8L502.8 619.7M480.0 611.8L521.3 624.1M480.0 611.8L550.1 624.6M480.0 611.8L536.6 627.2M373.1 695.7L347.2 635.2M373.1 695.7L333.5 635.4M373.1 695.7L321.8 644.5M373.1 695.7L356.0 647.2M373.1 695.7L313.4 657.3M373.1 695.7L337.0 654.2M373.1 695.7L354.7 664.7M373.1 695.7L325.3 671.3M373.1 695.7L307.2 672.9M373.1 695.7L341.9 682.5M373.1 695.7L305.1 688.3M373.1 695.7L322.3 695.7M373.1 695.7L340.5 707.2M373.1 695.7L305.7 704.4M373.1 695.7L308.3 719.5M373.1 695.7L325.3 721.3M373.1 695.7L343.3 729.1M373.1 695.7L315.1 735.2M373.1 695.7L324.8 745.8M373.1 695.7L345.4 745.8M373.1 695.7L332.7 756.4M373.1 695.7L345.4 760.3M480.0 611.8L477.3 675.6M483.1 744.5L477.3 675.6M480.0 611.8L489.6 675.6M483.1 744.5L489.6 675.6M480.0 611.8L483.5 675.9M483.1 744.5L483.5 675.9M480.0 611.8L495.7 675.2M483.1 744.5L495.7 675.2M480.0 611.8L502.2 675.2M483.1 744.5L502.2 675.2M373.1 695.7L427.4 712.3M483.1 744.5L427.4 712.3M373.1 695.7L428.3 719.7M483.1 744.5L428.3 719.7M373.1 695.7L419.5 720.6M483.1 744.5L419.5 720.6M373.1 695.7L423.6 729.5M483.1 744.5L423.6 729.5M373.1 695.7L414.3 731.3M483.1 744.5L414.3 731.3M373.1 695.7L418.3 739.8M483.1 744.5L418.3 739.8M483.1 744.5L470.7 728.5M483.1 744.5L490.1 722.9M373.1 695.7L410.8 750.1M483.1 744.5L410.8 750.1M373.1 695.7L411.1 742.8M483.1 744.5L411.1 742.8M483.1 744.5L460.7 752.9M483.1 744.5L448.4 769.6M483.1 744.5L466.0 772.6M483.1 744.5L435.3 779.9M483.1 744.5L484.0 776.1M483.1 744.5L449.8 788.9M483.1 744.5L431.3 791.3M483.1 744.5L466.0 795.7M483.1 744.5L438.8 801.1M483.1 744.5L484.3 798.0M483.1 744.5L449.0 807.6M483.1 744.5L460.3 812.3M483.1 744.5L472.6 814.6M483.1 744.5L485.2 815.0M483.1 744.5L536.1 714.5M483.1 744.5L522.4 716.4M483.1 744.5L547.8 717.3M483.1 744.5L507.5 722.4M483.1 744.5L556.0 727.3M483.1 744.5L543.1 734.3M483.1 744.5L526.3 734.7M483.1 744.5L558.9 740.1M483.1 744.5L508.9 744.5M483.1 744.5L558.0 752.4M483.1 744.5L541.3 752.7M483.1 744.5L554.5 764.4M483.1 744.5L522.1 760.2M483.1 744.5L535.2 773.4M483.1 744.5L549.9 776.0M483.1 744.5L502.3 768.8M483.1 744.5L518.6 784.2M483.1 744.5L541.3 787.4M483.1 744.5L502.3 793.0M483.1 744.5L531.5 796.0M483.1 744.5L521.2 803.1M483.1 744.5L509.8 809.2M483.1 744.5L497.9 812.2"/>
</g>
<circle cx="467.6" cy="542.8" r="1.35" fill="#d3c2ff"/>
<circle cx="453.9" cy="545.2" r="1.35" fill="#b89eff"/>
<circle cx="441.0" cy="550.1" r="1.35" fill="#d3c2ff"/>
<circle cx="461.5" cy="561.5" r="1.35" fill="#b89eff"/>
<circle cx="429.6" cy="557.2" r="1.35" fill="#d3c2ff"/>
<circle cx="443.9" cy="568.5" r="1.35" fill="#d3c2ff"/>
<circle cx="420.8" cy="566.8" r="1.35" fill="#d3c2ff"/>
<circle cx="415.4" cy="578.2" r="1.35" fill="#d3c2ff"/>
<circle cx="432.9" cy="582.2" r="1.35" fill="#d3c2ff"/>
<circle cx="467.1" cy="584.0" r="1.35" fill="#d3c2ff"/>
<circle cx="417.7" cy="591.7" r="1.35" fill="#d3c2ff"/>
<circle cx="451.0" cy="594.5" r="1.35" fill="#d3c2ff"/>
<circle cx="429.4" cy="601.5" r="1.35" fill="#d3c2ff"/>
<circle cx="443.1" cy="611.5" r="1.35" fill="#b89eff"/>
<circle cx="458.8" cy="617.2" r="1.35" fill="#b89eff"/>
<circle cx="411.0" cy="636.5" r="1.49" fill="#7c55ff"/>
<circle cx="415.6" cy="641.2" r="1.35" fill="#b89eff"/>
<circle cx="481.9" cy="541.9" r="1.35" fill="#b89eff"/>
<circle cx="496.6" cy="545.2" r="1.35" fill="#d3c2ff"/>
<circle cx="510.8" cy="549.3" r="1.35" fill="#b89eff"/>
<circle cx="522.9" cy="557.2" r="1.35" fill="#b89eff"/>
<circle cx="481.4" cy="558.4" r="1.35" fill="#d3c2ff"/>
<circle cx="502.8" cy="563.6" r="1.35" fill="#d3c2ff"/>
<circle cx="533.6" cy="565.6" r="1.35" fill="#b89eff"/>
<circle cx="518.2" cy="576.8" r="1.35" fill="#b89eff"/>
<circle cx="487.5" cy="580.3" r="1.35" fill="#d3c2ff"/>
<circle cx="543.2" cy="575.2" r="1.35" fill="#b89eff"/>
<circle cx="533.1" cy="589.0" r="1.35" fill="#b89eff"/>
<circle cx="550.6" cy="587.5" r="1.35" fill="#d3c2ff"/>
<circle cx="502.8" cy="594.5" r="1.35" fill="#b89eff"/>
<circle cx="554.6" cy="600.1" r="1.49" fill="#1c08ff"/>
<circle cx="520.3" cy="605.3" r="1.35" fill="#d3c2ff"/>
<circle cx="540.1" cy="608.8" r="1.35" fill="#b89eff"/>
<circle cx="555.8" cy="612.9" r="1.35" fill="#b89eff"/>
<circle cx="502.8" cy="619.7" r="1.35" fill="#b89eff"/>
<circle cx="521.3" cy="624.1" r="1.35" fill="#b89eff"/>
<circle cx="550.1" cy="624.6" r="1.35" fill="#b89eff"/>
<circle cx="536.6" cy="627.2" r="1.35" fill="#b89eff"/>
<circle cx="347.2" cy="635.2" r="1.49" fill="#1c08ff"/>
<circle cx="333.5" cy="635.4" r="1.49" fill="#1c08ff"/>
<circle cx="321.8" cy="644.5" r="1.35" fill="#b89eff"/>
<circle cx="356.0" cy="647.2" r="1.35" fill="#b89eff"/>
<circle cx="313.4" cy="657.3" r="1.35" fill="#b89eff"/>
<circle cx="337.0" cy="654.2" r="1.35" fill="#b89eff"/>
<circle cx="354.7" cy="664.7" r="1.49" fill="#7c55ff"/>
<circle cx="325.3" cy="671.3" r="1.35" fill="#d3c2ff"/>
<circle cx="307.2" cy="672.9" r="1.49" fill="#7c55ff"/>
<circle cx="341.9" cy="682.5" r="1.35" fill="#b89eff"/>
<circle cx="305.1" cy="688.3" r="1.35" fill="#b89eff"/>
<circle cx="322.3" cy="695.7" r="1.35" fill="#d3c2ff"/>
<circle cx="340.5" cy="707.2" r="1.35" fill="#d3c2ff"/>
<circle cx="305.7" cy="704.4" r="1.35" fill="#d3c2ff"/>
<circle cx="308.3" cy="719.5" r="1.35" fill="#b89eff"/>
<circle cx="325.3" cy="721.3" r="1.35" fill="#b89eff"/>
<circle cx="343.3" cy="729.1" r="1.35" fill="#b89eff"/>
<circle cx="315.1" cy="735.2" r="1.49" fill="#1c08ff"/>
<circle cx="324.8" cy="745.8" r="1.35" fill="#d3c2ff"/>
<circle cx="345.4" cy="745.8" r="1.35" fill="#d3c2ff"/>
<circle cx="332.7" cy="756.4" r="1.49" fill="#7c55ff"/>
<circle cx="345.4" cy="760.3" r="1.35" fill="#b89eff"/>
<circle cx="477.3" cy="675.6" r="1.35" fill="#b89eff"/>
<circle cx="489.6" cy="675.6" r="1.35" fill="#d3c2ff"/>
<circle cx="483.5" cy="675.9" r="1.35" fill="#d3c2ff"/>
<circle cx="495.7" cy="675.2" r="1.35" fill="#d3c2ff"/>
<circle cx="502.2" cy="675.2" r="1.35" fill="#d3c2ff"/>
<circle cx="427.4" cy="712.3" r="1.49" fill="#7c55ff"/>
<circle cx="428.3" cy="719.7" r="1.49" fill="#7c55ff"/>
<circle cx="419.5" cy="720.6" r="1.35" fill="#d3c2ff"/>
<circle cx="423.6" cy="729.5" r="1.35" fill="#b89eff"/>
<circle cx="414.3" cy="731.3" r="1.35" fill="#d3c2ff"/>
<circle cx="418.3" cy="739.8" r="1.49" fill="#7c55ff"/>
<circle cx="470.7" cy="728.5" r="1.35" fill="#d3c2ff"/>
<circle cx="490.1" cy="722.9" r="1.35" fill="#b89eff"/>
<circle cx="410.8" cy="750.1" r="1.49" fill="#1c08ff"/>
<circle cx="411.1" cy="742.8" r="1.35" fill="#d3c2ff"/>
<circle cx="460.7" cy="752.9" r="1.35" fill="#b89eff"/>
<circle cx="448.4" cy="769.6" r="1.35" fill="#d3c2ff"/>
<circle cx="466.0" cy="772.6" r="1.35" fill="#d3c2ff"/>
<circle cx="435.3" cy="779.9" r="1.35" fill="#d3c2ff"/>
<circle cx="484.0" cy="776.1" r="1.49" fill="#7c55ff"/>
<circle cx="449.8" cy="788.9" r="1.35" fill="#d3c2ff"/>
<circle cx="431.3" cy="791.3" r="1.49" fill="#7c55ff"/>
<circle cx="466.0" cy="795.7" r="1.49" fill="#7c55ff"/>
<circle cx="438.8" cy="801.1" r="1.35" fill="#d3c2ff"/>
<circle cx="484.3" cy="798.0" r="1.35" fill="#d3c2ff"/>
<circle cx="449.0" cy="807.6" r="1.35" fill="#b89eff"/>
<circle cx="460.3" cy="812.3" r="1.35" fill="#b89eff"/>
<circle cx="472.6" cy="814.6" r="1.35" fill="#b89eff"/>
<circle cx="485.2" cy="815.0" r="1.35" fill="#b89eff"/>
<circle cx="536.1" cy="714.5" r="1.35" fill="#b89eff"/>
<circle cx="522.4" cy="716.4" r="1.35" fill="#d3c2ff"/>
<circle cx="547.8" cy="717.3" r="1.49" fill="#7c55ff"/>
<circle cx="507.5" cy="722.4" r="1.49" fill="#7c55ff"/>
<circle cx="556.0" cy="727.3" r="1.35" fill="#d3c2ff"/>
<circle cx="543.1" cy="734.3" r="1.35" fill="#b89eff"/>
<circle cx="526.3" cy="734.7" r="1.49" fill="#7c55ff"/>
<circle cx="558.9" cy="740.1" r="1.35" fill="#d3c2ff"/>
<circle cx="508.9" cy="744.5" r="1.35" fill="#d3c2ff"/>
<circle cx="558.0" cy="752.4" r="1.35" fill="#d3c2ff"/>
<circle cx="541.3" cy="752.7" r="1.49" fill="#7c55ff"/>
<circle cx="554.5" cy="764.4" r="1.35" fill="#d3c2ff"/>
<circle cx="522.1" cy="760.2" r="1.35" fill="#d3c2ff"/>
<circle cx="535.2" cy="773.4" r="1.49" fill="#7c55ff"/>
<circle cx="549.9" cy="776.0" r="1.35" fill="#d3c2ff"/>
<circle cx="502.3" cy="768.8" r="1.49" fill="#7c55ff"/>
<circle cx="518.6" cy="784.2" r="1.35" fill="#d3c2ff"/>
<circle cx="541.3" cy="787.4" r="1.35" fill="#d3c2ff"/>
<circle cx="502.3" cy="793.0" r="1.35" fill="#b89eff"/>
<circle cx="531.5" cy="796.0" r="1.35" fill="#d3c2ff"/>
<circle cx="521.2" cy="803.1" r="1.49" fill="#1c08ff"/>
<circle cx="509.8" cy="809.2" r="1.49" fill="#1c08ff"/>
<circle cx="497.9" cy="812.2" r="1.35" fill="#d3c2ff"/>
<circle cx="480.0" cy="611.8" r="3.2" fill="#e8c48e"/>
<circle cx="373.1" cy="695.7" r="3.2" fill="#e8c48e"/>
<circle cx="483.1" cy="744.5" r="3.2" fill="#e8c48e"/>
<g font-size="4.8" text-anchor="middle" fill="#000" stroke="#000" stroke-width="0.096">
<text x="464.4" y="540.83">LSM2</text>
<text x="444.8" y="548.33">MCM6</text>
<text x="437.8" y="555.03">SET</text>
<text x="464.6" y="559.93">IFRD1</text>
<text x="426.1" y="562.43">RANBP1</text>
<text x="447.1" y="566.93">PSMD1</text>
<text x="417.7" y="572.03">PCNA</text>
<text x="405.4" y="578.13">SRPK1</text>
<text x="436.1" y="587.83">PSMA6</text>
<text x="464.1" y="589.23">HNRNPA3</text>
<text x="414.5" y="596.93">PSMA1</text>
<text x="447.8" y="599.73">PSMD7</text>
<text x="432.0" y="606.73">EIF4A1</text>
<text x="440.1" y="616.73">TFDP1</text>
<text x="455.7" y="622.83">PSMA7</text>
<text x="407.5" y="634.73">ODC1</text>
<text x="418.5" y="646.83">APEX1</text>
<text x="485.2" y="540.13">LSM7</text>
<text x="493.3" y="550.13">PSMC4</text>
<text x="513.8" y="554.53">NOP56</text>
<text x="526.1" y="562.43">PSMD14</text>
<text x="482.6" y="563.83">PRPS2</text>
<text x="500.3" y="569.03">U2AF1</text>
<text x="536.6" y="570.63">SRM</text>
<text x="520.8" y="575.03">CSTF2</text>
<text x="491.0" y="578.53">PSMD3</text>
<text x="539.6" y="580.23">HSPE1</text>
<text x="536.2" y="587.43">MCM5</text>
<text x="556.4" y="586.03">EIF3J</text>
<text x="497.2" y="599.73">HSPD1</text>
<text x="557.9" y="598.63">KPNA2</text>
<text x="516.8" y="603.93">NAP1L1</text>
<text x="537.1" y="607.03">PSMB2</text>
<text x="561.6" y="617.23">C1QBP</text>
<text x="499.4" y="618.13">AIMP2</text>
<text x="518.2" y="622.43">POLD2</text>
<text x="552.7" y="623.33">CTPS1</text>
<text x="533.4" y="632.83">SNRPD1</text>
<text x="350.2" y="633.43">PCBD1</text>
<text x="330.2" y="640.63">VNN1</text>
<text x="318.8" y="649.73">ACSM3</text>
<text x="352.8" y="652.73">FMO1</text>
<text x="316.2" y="655.93">BLVRA</text>
<text x="334.1" y="659.43">HADH</text>
<text x="357.7" y="662.93">INMT</text>
<text x="327.9" y="669.93">RAP1GDS1</text>
<text x="304.3" y="678.63">GLUL</text>
<text x="345.1" y="680.93">HMGCS1</text>
<text x="320.9" y="686.93">GABARAPL1</text>
<text x="319.2" y="700.93">UROS</text>
<text x="343.3" y="705.43">EHHADH</text>
<text x="303.4" y="709.83">SUCLG2</text>
<text x="305.1" y="718.13">GRHPR</text>
<text x="328.4" y="726.83">ACAT2</text>
<text x="346.3" y="734.73">EPHX1</text>
<text x="310.8" y="740.63">ACSS1</text>
<text x="327.6" y="743.93">ADSL</text>
<text x="351.0" y="750.63">BCKDHB</text>
<text x="328.3" y="755.03">DHCR24</text>
<text x="348.6" y="765.53">NBN</text>
<text x="477.0" y="673.73">GOT2</text>
<text x="496.3" y="673.73">VDAC3</text>
<text x="473.8" y="680.83">PRDX3</text>
<text x="492.2" y="680.83">COX5A</text>
<text x="508.5" y="680.43">CYC1</text>
<text x="423.9" y="710.93">FH</text>
<text x="432.3" y="718.13">ECHS1</text>
<text x="413.4" y="718.93">PDHA1</text>
<text x="426.5" y="728.13">SDHC</text>
<text x="411.6" y="736.83">PDHB</text>
<text x="425.3" y="745.03">SUCLG1</text>
<text x="467.4" y="733.83">NDUFC1</text>
<text x="487.0" y="721.03">MRPL35</text>
<text x="407.3" y="755.33">IDH1</text>
<text x="404.6" y="748.03">DECR1</text>
<text x="457.5" y="758.53">MRPS15</text>
<text x="444.9" y="767.83">AIFM1</text>
<text x="465.1" y="770.83">SLC25A6</text>
<text x="431.8" y="778.13">SLC25A12</text>
<text x="487.0" y="781.63">SLC25A5</text>
<text x="446.7" y="787.43">NDUFA8</text>
<text x="428.3" y="789.53">FXN</text>
<text x="463.0" y="794.13">MRPS30</text>
<text x="435.6" y="799.33">TOMM22</text>
<text x="487.3" y="803.23">UQCRQ</text>
<text x="445.8" y="806.03">NDUFB8</text>
<text x="447.0" y="812.83">SLC25A20</text>
<text x="475.6" y="812.83">ACADSB</text>
<text x="487.0" y="820.33">NDUFV1</text>
<text x="539.6" y="712.73">NDUFA9</text>
<text x="519.4" y="722.03">COX7A2</text>
<text x="551.0" y="722.93">ATP1B1</text>
<text x="504.4" y="727.83">NDUFB5</text>
<text x="563.6" y="729.03">ETFA</text>
<text x="554.5" y="735.13">NDUFB4</text>
<text x="522.9" y="739.93">COX7B</text>
<text x="561.8" y="744.83">ACAA1</text>
<text x="528.5" y="746.03">DLST</text>
<text x="561.3" y="750.93">AFG3L2</text>
<text x="536.8" y="757.93">NDUFA4</text>
<text x="558.7" y="762.83">MRPS11</text>
<text x="518.6" y="765.43">UQCR10</text>
<text x="532.0" y="771.63">LDHB</text>
<text x="560.1" y="779.83">HADHA</text>
<text x="498.8" y="774.03">NNT</text>
<text x="521.9" y="782.83">NDUFV2</text>
<text x="544.3" y="785.93">NDUFA3</text>
<text x="505.4" y="791.53">BDH2</text>
<text x="534.7" y="794.33">NDUFS4</text>
<text x="524.2" y="801.33">NDUFB2</text>
<text x="512.8" y="807.43">NQO2</text>
<text x="507.5" y="814.23">COX6A</text>
<text x="481.3" y="609.88">HALLMARK_MYC_TARGETS_V1</text>
<text x="376.6" y="693.38">HALLMARK_FATTY_ACID_METABOLISM</text>
<text x="467.8" y="751.38">HALLMARK_OXIDATIVE_PHOSPHORYLATION</text>
</g>
<text x="663.5" y="539.9" font-size="6.17" fill="#000">PODXL</text>
<rect x="573.1" y="641.0" width="0.6" height="1.6" fill="#444"/>
<text x="596.7" y="751.47" font-size="6.3" text-anchor="start" fill="#000" stroke="#000" stroke-width="0.189">size</text>
<circle cx="602.7" cy="760.1" r="3.5" fill="#000"/>
<text x="612.1" y="761.97" font-size="5.2" text-anchor="start" fill="#000" stroke="#000" stroke-width="0.156">5</text>
<circle cx="602.7" cy="770.3" r="4.5" fill="#000"/>
<text x="612.1" y="772.17" font-size="5.2" text-anchor="start" fill="#000" stroke="#000" stroke-width="0.156">10</text>
<circle cx="602.7" cy="780.9" r="5.0" fill="#000"/>
<text x="612.1" y="782.77" font-size="5.2" text-anchor="start" fill="#000" stroke="#000" stroke-width="0.156">15</text>
<circle cx="602.7" cy="792.9" r="5.5" fill="#000"/>
<text x="612.1" y="794.77" font-size="5.2" text-anchor="start" fill="#000" stroke="#000" stroke-width="0.156">20</text>
<text x="596.7" y="808.81" font-size="6.38" text-anchor="start" fill="#000" stroke="#000" stroke-width="0.191">fold change</text>
<rect x="596.3" y="812.1" width="10.2" height="53.9" fill="url(#gred)"/>
<path d="M596.3 821.0h2.04M606.5 821.0h-2.04" stroke="#fff" stroke-width="0.4" opacity="0.8"/>
<text x="609.8" y="822.87" font-size="5.2" text-anchor="start" fill="#000" stroke="#000" stroke-width="0.156">0.6</text>
<path d="M596.3 829.3h2.04M606.5 829.3h-2.04" stroke="#fff" stroke-width="0.4" opacity="0.8"/>
<text x="609.8" y="831.17" font-size="5.2" text-anchor="start" fill="#000" stroke="#000" stroke-width="0.156">0.5</text>
<path d="M596.3 837.7h2.04M606.5 837.7h-2.04" stroke="#fff" stroke-width="0.4" opacity="0.8"/>
<text x="609.8" y="839.57" font-size="5.2" text-anchor="start" fill="#000" stroke="#000" stroke-width="0.156">0.4</text>
<path d="M596.3 846.3h2.04M606.5 846.3h-2.04" stroke="#fff" stroke-width="0.4" opacity="0.8"/>
<text x="609.8" y="848.17" font-size="5.2" text-anchor="start" fill="#000" stroke="#000" stroke-width="0.156">0.3</text>
<path d="M596.3 854.5h2.04M606.5 854.5h-2.04" stroke="#fff" stroke-width="0.4" opacity="0.8"/>
<text x="609.8" y="856.37" font-size="5.2" text-anchor="start" fill="#000" stroke="#000" stroke-width="0.156">0.2</text>
<path d="M596.3 863.1h2.04M606.5 863.1h-2.04" stroke="#fff" stroke-width="0.4" opacity="0.8"/>
<text x="609.8" y="864.97" font-size="5.2" text-anchor="start" fill="#000" stroke="#000" stroke-width="0.156">0.1</text>
<text x="634.6" y="746.35" font-size="5.7" text-anchor="start" fill="#000" stroke="#000" stroke-width="0.171">size</text>
<circle cx="640.3" cy="753.8" r="3.2" fill="#000"/>
<text x="649.4" y="755.49" font-size="4.7" text-anchor="start" fill="#000" stroke="#000" stroke-width="0.141">10</text>
<circle cx="640.3" cy="763.1" r="3.7" fill="#000"/>
<text x="649.4" y="764.79" font-size="4.7" text-anchor="start" fill="#000" stroke="#000" stroke-width="0.141">20</text>
<circle cx="640.3" cy="772.6" r="4.4" fill="#000"/>
<text x="649.4" y="774.29" font-size="4.7" text-anchor="start" fill="#000" stroke="#000" stroke-width="0.141">30</text>
<circle cx="640.3" cy="783.1" r="4.8" fill="#000"/>
<text x="649.4" y="784.79" font-size="4.7" text-anchor="start" fill="#000" stroke="#000" stroke-width="0.141">40</text>
<circle cx="640.3" cy="794.4" r="5.3" fill="#000"/>
<text x="649.4" y="796.09" font-size="4.7" text-anchor="start" fill="#000" stroke="#000" stroke-width="0.141">50</text>
<text x="634.6" y="809.21" font-size="5.7" text-anchor="start" fill="#000" stroke="#000" stroke-width="0.171">fold change</text>
<rect x="634.2" y="812.4" width="9.8" height="46.2" fill="url(#gblue)"/>
<path d="M634.2 828.2h1.96M644.0 828.2h-1.96" stroke="#fff" stroke-width="0.4" opacity="0.8"/>
<text x="646.7" y="829.89" font-size="4.7" text-anchor="start" fill="#000" stroke="#000" stroke-width="0.141">−0.10</text>
<path d="M634.2 844.3h1.96M644.0 844.3h-1.96" stroke="#fff" stroke-width="0.4" opacity="0.8"/>
<text x="646.7" y="845.99" font-size="4.7" text-anchor="start" fill="#000" stroke="#000" stroke-width="0.141">−0.15</text>
</svg></body></html>
